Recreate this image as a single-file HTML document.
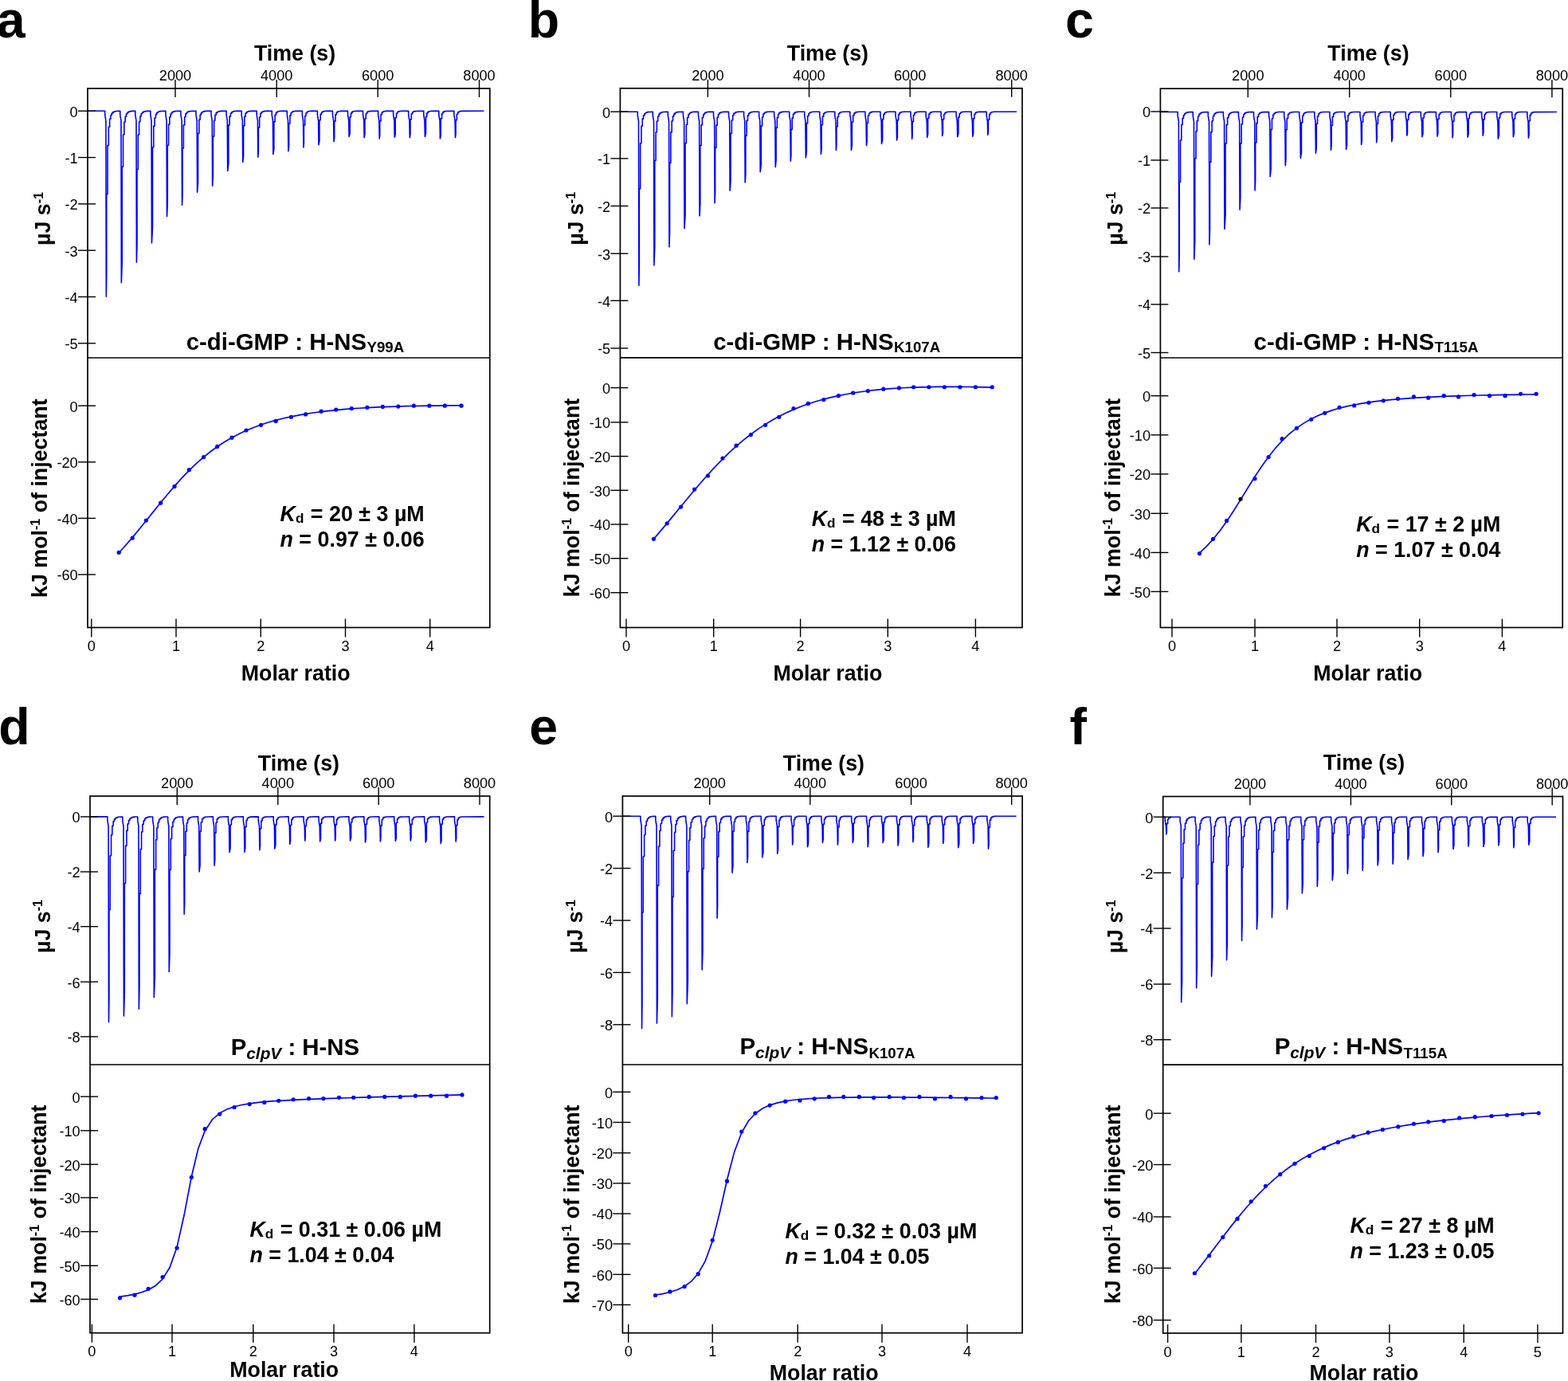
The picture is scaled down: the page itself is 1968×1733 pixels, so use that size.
<!DOCTYPE html>
<html><head><meta charset="utf-8"><style>
html,body{margin:0;padding:0;background:#fff;}
svg{display:block;}
text{font-family:"Liberation Sans",Arial,Helvetica,sans-serif;fill:#000;}
.let{font-size:64.5px;font-weight:bold;}
.lab{font-size:26.8px;font-weight:bold;}
.ttl{font-size:29.4px;font-weight:bold;}
.tl{font-size:18.2px;}
.sup{font-size:16px;}
.sub{font-size:18.7px;}
.subi{font-size:20.8px;font-style:italic;}
.kd{font-size:26.85px;font-weight:bold;}
.kds{font-size:17.2px;font-weight:bold;}
.fr{fill:none;stroke:#000;stroke-width:1.7;}
.tk{stroke:#000;stroke-width:1.4;}
.dat{fill:none;stroke:#0000ff;stroke-width:1.6;stroke-linejoin:round;}
.fit{fill:none;stroke:#0000ff;stroke-width:1.7;}
</style></head><body>
<svg width="1968" height="1733" viewBox="0 0 1968 1733">
<rect width="1968" height="1733" fill="#fff"/>
<text class="let" x="-4.3" y="47.3">a</text>
<path class="dat" d="M111,139.3 L131.7,139.3 L131.72,144.3 L132.9,151.3 L133.3,372.2 L133.75,344.31 L133.75,243.62 L135.05,243.62 L135.05,182.46 L136.35,182.46 L136.35,159.22 L137.65,159.22 L137.65,149.24 L138.95,149.24 L138.95,144.51 L140.25,144.51 L140.25,142.11 L141.55,142.11 L141.55,140.83 L142.85,140.83 L142.85,140.14 L144.15,140.14 L144.15,139.76 L145.45,139.76 L145.45,139.56 L150.75,139.32 L150.77,144.32 L151.95,151.32 L152.35,354.81 L153.23,328.98 L153.23,209.2 L154.53,209.2 L154.53,168.99 L155.83,168.98 L155.83,153.28 L157.13,153.28 L157.13,146.37 L158.43,146.37 L158.43,143.03 L159.73,143.03 L159.73,141.32 L161.03,141.32 L161.03,140.4 L162.33,140.4 L162.33,139.91 L163.63,139.91 L163.63,139.64 L164.93,139.64 L164.93,139.49 L166.23,139.4 L169.8,139.33 L169.82,144.33 L171,151.32 L171.4,329.22 L172.01,306.46 L172.02,212.46 L173.31,212.45 L173.32,169 L174.61,169 L174.62,152.8 L175.91,152.8 L175.92,145.97 L177.21,145.97 L177.22,142.78 L178.51,142.78 L178.52,141.17 L179.81,141.17 L179.82,140.32 L181.11,140.32 L181.12,139.86 L182.41,139.86 L182.42,139.61 L183.71,139.61 L183.72,139.47 L185.02,139.39 L188.85,139.33 L188.87,144.33 L190.05,151.32 L190.45,305.01 L191.5,285.14 L191.5,184.78 L192.8,184.78 L192.8,158.14 L194.1,158.14 L194.1,148 L195.4,148 L195.4,143.65 L196.7,143.65 L196.7,141.58 L198,141.58 L198,140.53 L199.3,140.53 L199.3,139.97 L200.6,139.97 L200.6,139.67 L201.9,139.67 L201.9,139.5 L207.9,139.32 L207.92,144.32 L209.1,151.31 L209.5,271.61 L210.28,255.75 L210.28,182.2 L211.58,182.2 L211.58,156.11 L212.88,156.11 L212.88,146.72 L214.18,146.72 L214.18,142.89 L215.48,142.89 L215.48,141.15 L216.78,141.15 L216.78,140.29 L218.08,140.29 L218.08,139.84 L219.38,139.84 L219.38,139.59 L220.68,139.59 L220.68,139.46 L226.95,139.32 L226.97,144.32 L228.15,151.31 L228.55,257.5 L229.06,243.35 L229.06,186.02 L230.36,186.01 L230.36,156.9 L231.66,156.9 L231.66,146.8 L232.96,146.79 L232.96,142.84 L234.26,142.84 L234.26,141.09 L235.56,141.09 L235.56,140.25 L236.86,140.25 L236.86,139.81 L238.16,139.81 L238.16,139.58 L239.46,139.58 L239.46,139.45 L246,139.31 L246.02,144.31 L247.2,151.31 L247.6,241.3 L248.54,229.08 L248.55,167.55 L249.84,167.55 L249.85,150.21 L251.14,150.21 L251.15,144.05 L252.44,144.05 L252.45,141.58 L253.74,141.58 L253.75,140.47 L255.04,140.47 L255.05,139.92 L256.34,139.92 L256.35,139.64 L257.64,139.64 L257.65,139.48 L258.95,139.4 L265.05,139.31 L265.07,144.31 L266.25,151.31 L266.65,233.21 L267.33,221.95 L267.33,171.19 L268.63,171.19 L268.63,151.21 L269.93,151.21 L269.93,144.33 L271.23,144.33 L271.23,141.66 L272.53,141.66 L272.53,140.49 L273.83,140.49 L273.83,139.93 L275.13,139.93 L275.13,139.64 L276.43,139.64 L276.43,139.49 L277.73,139.4 L284.1,139.31 L284.12,144.31 L285.3,151.31 L285.7,214.6 L286.81,205.57 L286.81,157.07 L288.11,157.07 L288.11,146.07 L289.41,146.07 L289.41,142.22 L290.71,142.22 L290.71,140.69 L292.01,140.69 L292.01,140.01 L293.31,140.01 L293.31,139.67 L294.61,139.67 L294.61,139.5 L297.21,139.36 L303.15,139.31 L303.17,144.31 L304.35,151.3 L304.75,203.5 L305.59,195.81 L305.59,157.85 L306.89,157.85 L306.89,146.11 L308.19,146.1 L308.19,142.12 L309.49,142.12 L309.49,140.61 L310.79,140.61 L310.79,139.95 L312.09,139.95 L312.09,139.64 L315.99,139.36 L322.2,139.31 L322.22,144.31 L323.4,151.3 L323.8,197.3 L324.38,190.35 L324.38,160.09 L325.68,160.09 L325.68,146.69 L326.98,146.69 L326.98,142.27 L328.28,142.27 L328.28,140.64 L329.58,140.64 L329.58,139.96 L330.88,139.96 L330.88,139.64 L334.78,139.35 L341.25,139.31 L341.27,144.31 L342.45,151.3 L342.85,193.6 L343.86,187.09 L343.86,152.86 L345.16,152.86 L345.16,144.29 L346.46,144.29 L346.46,141.38 L347.76,141.38 L347.76,140.26 L349.06,140.26 L349.06,139.78 L350.36,139.78 L350.36,139.55 L352.96,139.37 L360.3,139.3 L360.32,144.3 L361.5,151.3 L361.9,189.7 L362.64,183.66 L362.64,154.93 L363.94,154.93 L363.94,144.89 L365.24,144.89 L365.24,141.56 L366.54,141.56 L366.54,140.32 L367.84,140.32 L367.84,139.8 L369.14,139.8 L369.14,139.56 L371.74,139.38 L379.35,139.3 L379.37,144.3 L380.55,151.3 L380.95,185 L381.42,179.53 L381.43,157 L382.72,157 L382.73,145.44 L384.02,145.44 L384.03,141.71 L385.32,141.71 L385.33,140.36 L386.62,140.36 L386.63,139.81 L387.92,139.81 L387.93,139.56 L390.53,139.38 L398.4,139.3 L398.42,144.3 L399.6,151.3 L400,181.8 L400.91,176.71 L400.91,150.69 L402.21,150.69 L402.21,143.39 L403.51,143.39 L403.51,140.96 L404.81,140.96 L404.81,140.06 L406.11,140.06 L406.11,139.67 L407.41,139.67 L407.41,139.5 L410.01,139.36 L417.45,139.3 L417.47,144.3 L418.65,151.3 L419.05,177.6 L419.69,173.01 L419.69,152.1 L420.99,152.1 L420.99,143.77 L422.29,143.77 L422.29,141.06 L423.59,141.06 L423.59,140.08 L424.89,140.08 L424.89,139.68 L426.19,139.68 L426.19,139.5 L428.79,139.36 L436.5,139.3 L436.52,144.3 L437.7,151.3 L438.1,171.5 L439.17,167.64 L439.17,146.73 L440.47,146.73 L440.47,141.98 L441.77,141.98 L441.77,140.39 L443.07,140.39 L443.07,139.8 L444.37,139.8 L444.37,139.55 L448.27,139.34 L455.55,139.3 L455.57,144.3 L456.75,151.3 L457.15,172.6 L457.95,168.61 L457.96,148.93 L459.25,148.93 L459.26,142.69 L460.55,142.69 L460.56,140.65 L461.85,140.65 L461.86,139.9 L463.15,139.9 L463.16,139.59 L467.06,139.34 L474.6,139.3 L474.62,144.3 L475.8,151.3 L476.2,174 L476.74,169.84 L476.74,151.92 L478.04,151.92 L478.04,143.65 L479.34,143.65 L479.34,140.99 L480.64,140.99 L480.64,140.04 L481.94,140.04 L481.94,139.66 L483.24,139.66 L483.24,139.48 L484.54,139.4 L493.65,139.3 L493.67,144.3 L494.85,151.3 L495.25,172.2 L496.22,168.26 L496.22,147.58 L497.52,147.58 L497.52,142.25 L498.82,142.25 L498.82,140.49 L500.12,140.49 L500.12,139.84 L501.42,139.84 L501.42,139.57 L505.32,139.34 L512.7,139.3 L512.72,144.3 L513.9,151.3 L514.3,172.6 L515,168.61 L515,149.8 L516.3,149.8 L516.3,142.96 L517.6,142.96 L517.6,140.74 L518.9,140.74 L518.9,139.94 L520.2,139.94 L520.2,139.61 L521.5,139.61 L521.5,139.46 L531.75,139.3 L531.77,144.3 L532.95,151.3 L533.35,171.5 L534.48,167.64 L534.49,146.35 L535.78,146.35 L535.79,141.85 L537.08,141.85 L537.09,140.35 L538.38,140.35 L538.39,139.78 L539.68,139.78 L539.69,139.54 L543.59,139.34 L550.8,139.3 L550.82,144.3 L552,151.3 L552.4,174 L553.27,169.84 L553.27,148.83 L554.57,148.83 L554.57,142.68 L555.87,142.68 L555.87,140.65 L557.17,140.65 L557.17,139.91 L558.47,139.91 L558.47,139.6 L559.77,139.6 L559.77,139.45 L569.85,139.3 L569.87,144.3 L571.05,151.3 L571.45,172.6 L572.05,168.61 L572.05,150.76 L573.35,150.76 L573.35,143.26 L574.65,143.26 L574.65,140.84 L575.95,140.84 L575.95,139.98 L577.25,139.98 L577.25,139.63 L578.55,139.63 L578.55,139.47 L579.85,139.39 L607.3,139.3"/>
<rect x="110" y="111" width="504.8" height="676.5" class="fr"/>
<line x1="110" y1="449" x2="614.8" y2="449" class="fr"/>
<line x1="220" y1="100" x2="220" y2="122" class="tk"/>
<text class="tl" x="220" y="101" text-anchor="middle">2000</text>
<line x1="347.2" y1="100" x2="347.2" y2="122" class="tk"/>
<text class="tl" x="347.2" y="101" text-anchor="middle">4000</text>
<line x1="474.2" y1="100" x2="474.2" y2="122" class="tk"/>
<text class="tl" x="474.2" y="101" text-anchor="middle">6000</text>
<line x1="601.5" y1="100" x2="601.5" y2="122" class="tk"/>
<text class="tl" x="601.5" y="101" text-anchor="middle">8000</text>
<text class="lab" x="370.05" y="76.1" text-anchor="middle">Time (s)</text>
<line x1="98" y1="139.3" x2="120" y2="139.3" class="tk"/>
<text class="tl" x="97.7" y="146.7" text-anchor="end">0</text>
<line x1="98" y1="197.6" x2="120" y2="197.6" class="tk"/>
<text class="tl" x="97.7" y="205" text-anchor="end">-1</text>
<line x1="98" y1="255.9" x2="120" y2="255.9" class="tk"/>
<text class="tl" x="97.7" y="263.3" text-anchor="end">-2</text>
<line x1="98" y1="314.2" x2="120" y2="314.2" class="tk"/>
<text class="tl" x="97.7" y="321.6" text-anchor="end">-3</text>
<line x1="98" y1="372.5" x2="120" y2="372.5" class="tk"/>
<text class="tl" x="97.7" y="379.9" text-anchor="end">-4</text>
<line x1="98" y1="430.8" x2="120" y2="430.8" class="tk"/>
<text class="tl" x="97.7" y="438.2" text-anchor="end">-5</text>
<text class="lab" transform="translate(62.9,274.5) rotate(-90)" text-anchor="middle">µJ s<tspan class="sup" dy="-9.4">-1</tspan></text>
<text class="ttl" x="233.7" y="438.8">c-di-GMP : H-NS<tspan class="sub" dx="0.4" dy="2.9">Y99A</tspan></text>
<line x1="98" y1="509.2" x2="120" y2="509.2" class="tk"/>
<text class="tl" x="97.7" y="516.6" text-anchor="end">0</text>
<line x1="98" y1="579.8" x2="120" y2="579.8" class="tk"/>
<text class="tl" x="97.7" y="587.2" text-anchor="end">-20</text>
<line x1="98" y1="650.4" x2="120" y2="650.4" class="tk"/>
<text class="tl" x="97.7" y="657.8" text-anchor="end">-40</text>
<line x1="98" y1="721" x2="120" y2="721" class="tk"/>
<text class="tl" x="97.7" y="728.4" text-anchor="end">-60</text>
<line x1="114.8" y1="776.5" x2="114.8" y2="799.5" class="tk"/>
<text class="tl" x="114.8" y="817" text-anchor="middle">0</text>
<line x1="221" y1="776.5" x2="221" y2="799.5" class="tk"/>
<text class="tl" x="221" y="817" text-anchor="middle">1</text>
<line x1="327.3" y1="776.5" x2="327.3" y2="799.5" class="tk"/>
<text class="tl" x="327.3" y="817" text-anchor="middle">2</text>
<line x1="433.5" y1="776.5" x2="433.5" y2="799.5" class="tk"/>
<text class="tl" x="433.5" y="817" text-anchor="middle">3</text>
<line x1="539.7" y1="776.5" x2="539.7" y2="799.5" class="tk"/>
<text class="tl" x="539.7" y="817" text-anchor="middle">4</text>
<text class="lab" transform="translate(59.3,625.15) rotate(-90)" text-anchor="middle">kJ mol<tspan class="sup" dy="-9.4">-1</tspan><tspan dy="9.4"> of injectant</tspan></text>
<path class="fit" d="M149.21,693.75 L157.74,684.31 L166.28,674.39 L174.82,664.08 L183.35,653.53 L192.5,642.12 L201.65,630.79 L210.34,620.26 L219.02,610.1 L228.17,599.95 L237.32,590.45 L246.46,581.66 L255.61,573.61 L264.15,566.76 L272.68,560.54 L281.83,554.54 L290.98,549.18 L299.97,544.47 L308.96,540.28 L318.26,536.44 L327.56,533.04 L336.86,530.04 L346.16,527.39 L355.76,524.97 L365.37,522.84 L374.51,521.05 L383.66,519.46 L393.41,517.97 L403.17,516.66 L412.47,515.56 L421.77,514.59 L431.52,513.7 L441.28,512.92 L451.04,512.24 L460.79,511.64 L470.55,511.13 L480.3,510.69 L490.06,510.31 L499.82,509.98 L509.57,509.71 L519.33,509.48 L529.09,509.3 L538.84,509.16 L548.6,509.04 L558.35,508.96 L568.72,508.91 L579.09,508.89"/>
<circle cx="149.21" cy="693.35" r="2.6" fill="#0000ff"/>
<circle cx="166.28" cy="675.06" r="2.6" fill="#0000ff"/>
<circle cx="183.35" cy="653.11" r="2.6" fill="#0000ff"/>
<circle cx="201.65" cy="631.16" r="2.6" fill="#0000ff"/>
<circle cx="219.02" cy="610.43" r="2.6" fill="#0000ff"/>
<circle cx="237.32" cy="589.7" r="2.6" fill="#0000ff"/>
<circle cx="255.61" cy="573.54" r="2.6" fill="#0000ff"/>
<circle cx="272.68" cy="560.43" r="2.6" fill="#0000ff"/>
<circle cx="290.98" cy="549.15" r="2.6" fill="#0000ff"/>
<circle cx="308.96" cy="540" r="2.6" fill="#0000ff"/>
<circle cx="327.56" cy="533.29" r="2.6" fill="#0000ff"/>
<circle cx="346.16" cy="528.41" r="2.6" fill="#0000ff"/>
<circle cx="365.37" cy="523.23" r="2.6" fill="#0000ff"/>
<circle cx="383.66" cy="519.88" r="2.6" fill="#0000ff"/>
<circle cx="403.17" cy="516.22" r="2.6" fill="#0000ff"/>
<circle cx="421.77" cy="514.09" r="2.6" fill="#0000ff"/>
<circle cx="441.28" cy="512.56" r="2.6" fill="#0000ff"/>
<circle cx="460.79" cy="511.34" r="2.6" fill="#0000ff"/>
<circle cx="480.3" cy="510.43" r="2.6" fill="#0000ff"/>
<circle cx="499.82" cy="510.12" r="2.6" fill="#0000ff"/>
<circle cx="519.33" cy="509.21" r="2.6" fill="#0000ff"/>
<circle cx="538.84" cy="509.21" r="2.6" fill="#0000ff"/>
<circle cx="558.35" cy="509.21" r="2.6" fill="#0000ff"/>
<circle cx="579.09" cy="509.21" r="2.6" fill="#0000ff"/>
<text class="kd" x="351.5" y="654.2"><tspan font-style="italic">K</tspan><tspan class="kds" dy="1.8">d</tspan><tspan dx="1" dy="-1.8"> = 20 ± 3 µM</tspan></text>
<text class="kd" x="351.5" y="686"><tspan font-style="italic">n</tspan> = 0.97 ± 0.06</text>
<text class="lab" x="371.2" y="854" text-anchor="middle">Molar ratio</text>
<text class="let" x="662.8" y="47.3">b</text>
<path class="dat" d="M778.5,140.2 L800.3,140.2 L800.32,145.2 L801.5,152.2 L801.9,358.15 L802.35,332.05 L802.35,236.91 L803.65,236.91 L803.65,179.74 L804.95,179.74 L804.95,158.28 L806.25,158.28 L806.25,149.17 L807.55,149.17 L807.55,144.89 L808.85,144.89 L808.85,142.72 L810.15,142.72 L810.15,141.57 L811.45,141.57 L811.45,140.95 L812.75,140.95 L812.75,140.62 L814.05,140.62 L814.05,140.43 L819.34,140.22 L819.36,145.22 L820.54,152.22 L820.94,333.01 L821.82,309.9 L821.82,201.45 L823.12,201.45 L823.12,165.76 L824.42,165.75 L824.42,152.07 L825.72,152.07 L825.72,146.15 L827.02,146.15 L827.02,143.33 L828.32,143.33 L828.32,141.89 L829.62,141.89 L829.62,141.12 L830.92,141.12 L830.92,140.71 L832.22,140.71 L832.22,140.48 L838.38,140.23 L838.4,145.23 L839.58,152.21 L839.98,309.87 L840.59,289.54 L840.6,204.56 L841.89,204.56 L841.9,165.89 L843.19,165.88 L843.2,151.71 L844.49,151.71 L844.5,145.84 L845.79,145.83 L845.8,143.12 L847.09,143.12 L847.1,141.76 L848.39,141.76 L848.4,141.05 L849.69,141.05 L849.7,140.67 L850.99,140.67 L851,140.46 L857.42,140.22 L857.44,145.22 L858.62,152.21 L859.02,286.73 L860.07,269.16 L860.07,179.6 L861.37,179.59 L861.37,156.25 L862.67,156.24 L862.67,147.51 L863.97,147.51 L863.97,143.82 L865.27,143.82 L865.27,142.09 L866.57,142.09 L866.57,141.21 L867.87,141.21 L867.87,140.75 L869.17,140.75 L869.17,140.5 L870.47,140.5 L870.47,140.37 L876.46,140.22 L876.48,145.22 L877.66,152.21 L878.06,270.97 L878.84,255.29 L878.84,182.54 L880.14,182.54 L880.14,156.77 L881.44,156.77 L881.44,147.5 L882.74,147.5 L882.74,143.73 L884.04,143.73 L884.04,142.02 L885.34,142.02 L885.34,141.17 L886.64,141.17 L886.64,140.73 L887.94,140.73 L887.94,140.49 L889.24,140.49 L889.24,140.36 L895.5,140.21 L895.52,145.21 L896.7,152.21 L897.1,254.87 L897.61,241.13 L897.61,185.4 L898.91,185.4 L898.91,157.17 L900.21,157.17 L900.21,147.4 L901.51,147.4 L901.51,143.59 L902.81,143.59 L902.81,141.91 L904.11,141.91 L904.11,141.11 L905.41,141.1 L905.41,140.69 L906.71,140.69 L906.71,140.47 L908.01,140.47 L908.01,140.35 L914.54,140.21 L914.56,145.21 L915.74,152.21 L916.14,239.11 L917.08,227.25 L917.09,167.5 L918.38,167.5 L918.39,150.71 L919.68,150.71 L919.69,144.77 L920.98,144.77 L920.99,142.39 L922.28,142.39 L922.29,141.32 L923.58,141.32 L923.59,140.79 L924.88,140.79 L924.89,140.52 L926.18,140.52 L926.19,140.38 L927.49,140.3 L933.58,140.21 L933.6,145.21 L934.78,152.21 L935.18,229.05 L935.86,218.4 L935.86,170.24 L937.16,170.24 L937.16,151.36 L938.46,151.36 L938.46,144.89 L939.76,144.88 L939.76,142.39 L941.06,142.39 L941.06,141.3 L942.36,141.3 L942.36,140.78 L943.66,140.78 L943.66,140.51 L944.96,140.51 L944.96,140.37 L946.26,140.29 L952.62,140.21 L952.64,145.21 L953.82,152.2 L954.22,215.63 L955.33,206.59 L955.33,158 L956.63,158 L956.63,146.99 L957.93,146.99 L957.93,143.12 L959.23,143.12 L959.23,141.59 L960.53,141.59 L960.53,140.91 L961.83,140.91 L961.83,140.57 L963.13,140.57 L963.13,140.4 L965.73,140.26 L971.66,140.21 L971.68,145.21 L972.86,152.2 L973.26,209.59 L974.1,201.28 L974.1,160.35 L975.4,160.35 L975.4,147.64 L976.7,147.64 L976.7,143.31 L978,143.31 L978,141.64 L979.3,141.64 L979.3,140.92 L980.6,140.92 L980.6,140.58 L981.9,140.58 L981.9,140.41 L984.5,140.26 L990.7,140.21 L990.72,145.21 L991.9,152.2 L992.3,202.22 L992.88,194.79 L992.88,162.5 L994.18,162.5 L994.18,148.16 L995.48,148.16 L995.48,143.42 L996.78,143.41 L996.78,141.65 L998.08,141.65 L998.08,140.92 L999.38,140.92 L999.38,140.57 L1000.68,140.57 L1000.68,140.4 L1003.28,140.26 L1009.74,140.21 L1009.76,145.21 L1010.94,152.2 L1011.34,197.86 L1012.35,190.94 L1012.35,154.66 L1013.65,154.66 L1013.65,145.54 L1014.95,145.54 L1014.95,142.43 L1016.25,142.43 L1016.25,141.24 L1017.55,141.24 L1017.55,140.72 L1018.85,140.72 L1018.85,140.47 L1021.45,140.28 L1028.78,140.2 L1028.8,145.2 L1029.98,152.2 L1030.38,193.5 L1031.12,187.11 L1031.12,156.77 L1032.42,156.77 L1032.42,146.15 L1033.72,146.15 L1033.72,142.61 L1035.02,142.61 L1035.02,141.3 L1036.32,141.3 L1036.32,140.74 L1037.62,140.74 L1037.62,140.48 L1040.22,140.28 L1047.82,140.2 L1047.84,145.2 L1049.02,152.2 L1049.42,188.47 L1049.89,182.69 L1049.9,158.92 L1051.19,158.92 L1051.2,146.72 L1052.49,146.72 L1052.5,142.76 L1053.79,142.76 L1053.8,141.33 L1055.09,141.33 L1055.1,140.75 L1056.39,140.75 L1056.4,140.48 L1060.3,140.25 L1066.86,140.2 L1066.88,145.2 L1068.06,152.2 L1068.46,188.47 L1069.37,182.68 L1069.37,153.22 L1070.67,153.22 L1070.67,144.91 L1071.97,144.91 L1071.97,142.13 L1073.27,142.13 L1073.27,141.08 L1074.57,141.08 L1074.57,140.64 L1075.87,140.64 L1075.87,140.43 L1078.47,140.27 L1085.9,140.2 L1085.92,145.2 L1087.1,152.2 L1087.5,182.77 L1088.14,177.66 L1088.14,154.48 L1089.44,154.48 L1089.44,145.21 L1090.74,145.21 L1090.74,142.19 L1092.04,142.19 L1092.04,141.08 L1093.34,141.08 L1093.34,140.63 L1094.64,140.63 L1094.64,140.42 L1097.24,140.26 L1104.94,140.2 L1104.96,145.2 L1106.14,152.2 L1106.54,180.42 L1107.61,175.6 L1107.61,149.58 L1108.91,149.58 L1108.91,143.61 L1110.21,143.61 L1110.21,141.6 L1111.51,141.6 L1111.51,140.85 L1112.81,140.85 L1112.81,140.52 L1116.71,140.25 L1123.98,140.2 L1124,145.2 L1125.18,152.2 L1125.58,176.06 L1126.38,171.76 L1126.39,150.6 L1127.68,150.6 L1127.69,143.87 L1128.98,143.87 L1128.99,141.66 L1130.28,141.66 L1130.29,140.86 L1131.58,140.86 L1131.59,140.52 L1135.49,140.25 L1143.02,140.2 L1143.04,145.2 L1144.22,152.2 L1144.62,174.38 L1145.16,170.29 L1145.16,152.63 L1146.46,152.63 L1146.46,144.48 L1147.76,144.48 L1147.76,141.86 L1149.06,141.86 L1149.06,140.93 L1150.36,140.93 L1150.36,140.55 L1154.26,140.25 L1162.06,140.2 L1162.08,145.2 L1163.26,152.2 L1163.66,172.37 L1164.63,168.51 L1164.63,148.29 L1165.93,148.28 L1165.93,143.08 L1167.23,143.08 L1167.23,141.36 L1168.53,141.36 L1168.53,140.73 L1169.83,140.73 L1169.83,140.46 L1172.43,140.27 L1181.1,140.2 L1181.12,145.2 L1182.3,152.2 L1182.7,170.36 L1183.4,166.74 L1183.4,149.68 L1184.7,149.68 L1184.7,143.49 L1186,143.49 L1186,141.49 L1187.3,141.49 L1187.3,140.77 L1188.6,140.77 L1188.6,140.48 L1192.5,140.24 L1200.14,140.2 L1200.16,145.2 L1201.34,152.2 L1201.74,171.7 L1202.87,167.92 L1202.88,147.09 L1204.17,147.09 L1204.18,142.69 L1205.47,142.69 L1205.48,141.22 L1206.77,141.22 L1206.78,140.67 L1208.07,140.67 L1208.08,140.43 L1210.68,140.27 L1219.18,140.2 L1219.2,145.2 L1220.38,152.2 L1220.78,171.36 L1221.65,167.63 L1221.65,148.72 L1222.95,148.72 L1222.95,143.21 L1224.25,143.21 L1224.25,141.4 L1225.55,141.4 L1225.55,140.74 L1226.85,140.74 L1226.85,140.46 L1228.15,140.46 L1228.15,140.34 L1238.22,140.2 L1238.24,145.2 L1239.42,152.2 L1239.82,169.35 L1240.42,165.86 L1240.42,150.2 L1241.72,150.2 L1241.72,143.64 L1243.02,143.64 L1243.02,141.53 L1244.32,141.53 L1244.32,140.78 L1245.62,140.78 L1245.62,140.48 L1246.92,140.48 L1246.92,140.34 L1248.22,140.28 L1276,140.2"/>
<rect x="778.4" y="110.8" width="504.6" height="676.7" class="fr"/>
<line x1="778.4" y1="448.8" x2="1283" y2="448.8" class="fr"/>
<line x1="888.4" y1="99.8" x2="888.4" y2="121.8" class="tk"/>
<text class="tl" x="888.4" y="100.8" text-anchor="middle">2000</text>
<line x1="1015.5" y1="99.8" x2="1015.5" y2="121.8" class="tk"/>
<text class="tl" x="1015.5" y="100.8" text-anchor="middle">4000</text>
<line x1="1142.2" y1="99.8" x2="1142.2" y2="121.8" class="tk"/>
<text class="tl" x="1142.2" y="100.8" text-anchor="middle">6000</text>
<line x1="1269.7" y1="99.8" x2="1269.7" y2="121.8" class="tk"/>
<text class="tl" x="1269.7" y="100.8" text-anchor="middle">8000</text>
<text class="lab" x="1038.9" y="76.1" text-anchor="middle">Time (s)</text>
<line x1="766.4" y1="140.2" x2="788.4" y2="140.2" class="tk"/>
<text class="tl" x="766.1" y="147.6" text-anchor="end">0</text>
<line x1="766.4" y1="198.9" x2="788.4" y2="198.9" class="tk"/>
<text class="tl" x="766.1" y="206.3" text-anchor="end">-1</text>
<line x1="766.4" y1="258.5" x2="788.4" y2="258.5" class="tk"/>
<text class="tl" x="766.1" y="265.9" text-anchor="end">-2</text>
<line x1="766.4" y1="318.2" x2="788.4" y2="318.2" class="tk"/>
<text class="tl" x="766.1" y="325.6" text-anchor="end">-3</text>
<line x1="766.4" y1="377.3" x2="788.4" y2="377.3" class="tk"/>
<text class="tl" x="766.1" y="384.7" text-anchor="end">-4</text>
<line x1="766.4" y1="437" x2="788.4" y2="437" class="tk"/>
<text class="tl" x="766.1" y="444.4" text-anchor="end">-5</text>
<text class="lab" transform="translate(731.7,274.4) rotate(-90)" text-anchor="middle">µJ s<tspan class="sup" dy="-9.4">-1</tspan></text>
<text class="ttl" x="895.2" y="439">c-di-GMP : H-NS<tspan class="sub" dx="0.4" dy="2.9">K107A</tspan></text>
<line x1="766.4" y1="486.6" x2="788.4" y2="486.6" class="tk"/>
<text class="tl" x="766.1" y="494" text-anchor="end">0</text>
<line x1="766.4" y1="529.9" x2="788.4" y2="529.9" class="tk"/>
<text class="tl" x="766.1" y="537.3" text-anchor="end">-10</text>
<line x1="766.4" y1="572.6" x2="788.4" y2="572.6" class="tk"/>
<text class="tl" x="766.1" y="580" text-anchor="end">-20</text>
<line x1="766.4" y1="615.3" x2="788.4" y2="615.3" class="tk"/>
<text class="tl" x="766.1" y="622.7" text-anchor="end">-30</text>
<line x1="766.4" y1="658" x2="788.4" y2="658" class="tk"/>
<text class="tl" x="766.1" y="665.4" text-anchor="end">-40</text>
<line x1="766.4" y1="700.7" x2="788.4" y2="700.7" class="tk"/>
<text class="tl" x="766.1" y="708.1" text-anchor="end">-50</text>
<line x1="766.4" y1="743.7" x2="788.4" y2="743.7" class="tk"/>
<text class="tl" x="766.1" y="751.1" text-anchor="end">-60</text>
<line x1="786" y1="776.5" x2="786" y2="799.5" class="tk"/>
<text class="tl" x="786" y="817" text-anchor="middle">0</text>
<line x1="895.7" y1="776.5" x2="895.7" y2="799.5" class="tk"/>
<text class="tl" x="895.7" y="817" text-anchor="middle">1</text>
<line x1="1004.6" y1="776.5" x2="1004.6" y2="799.5" class="tk"/>
<text class="tl" x="1004.6" y="817" text-anchor="middle">2</text>
<line x1="1114.3" y1="776.5" x2="1114.3" y2="799.5" class="tk"/>
<text class="tl" x="1114.3" y="817" text-anchor="middle">3</text>
<line x1="1224.4" y1="776.5" x2="1224.4" y2="799.5" class="tk"/>
<text class="tl" x="1224.4" y="817" text-anchor="middle">4</text>
<text class="lab" transform="translate(726.8,624.5) rotate(-90)" text-anchor="middle">kJ mol<tspan class="sup" dy="-9.4">-1</tspan><tspan dy="9.4"> of injectant</tspan></text>
<path class="fit" d="M820.43,676.42 L828.81,666.66 L837.2,656.66 L845.88,646.15 L854.57,635.58 L863.11,625.23 L871.65,615.03 L880.03,605.23 L888.41,595.73 L897.71,585.62 L907.01,576.03 L915.55,567.73 L924.09,559.93 L933.23,552.16 L942.38,544.98 L951.52,538.39 L960.67,532.36 L969.21,527.23 L977.74,522.55 L986.89,518 L996.04,513.89 L1005.18,510.2 L1014.33,506.9 L1024.09,503.75 L1033.84,500.97 L1043.14,498.63 L1052.44,496.55 L1061.59,494.75 L1070.73,493.16 L1080.03,491.75 L1089.33,490.53 L1099.09,489.42 L1108.84,488.47 L1118.6,487.68 L1128.35,487.02 L1137.5,486.52 L1146.65,486.12 L1156.25,485.79 L1165.85,485.55 L1175.61,485.39 L1185.37,485.32 L1195.12,485.31 L1204.88,485.37 L1214.63,485.48 L1224.39,485.65 L1234.76,485.89 L1245.12,486.18"/>
<circle cx="820.43" cy="676.28" r="2.6" fill="#0000ff"/>
<circle cx="837.2" cy="656.77" r="2.6" fill="#0000ff"/>
<circle cx="854.57" cy="636.04" r="2.6" fill="#0000ff"/>
<circle cx="871.65" cy="614.09" r="2.6" fill="#0000ff"/>
<circle cx="888.41" cy="597.01" r="2.6" fill="#0000ff"/>
<circle cx="907.01" cy="575.06" r="2.6" fill="#0000ff"/>
<circle cx="924.09" cy="559.21" r="2.6" fill="#0000ff"/>
<circle cx="942.38" cy="545.49" r="2.6" fill="#0000ff"/>
<circle cx="960.67" cy="533.29" r="2.6" fill="#0000ff"/>
<circle cx="977.74" cy="523.23" r="2.6" fill="#0000ff"/>
<circle cx="996.04" cy="512.56" r="2.6" fill="#0000ff"/>
<circle cx="1014.33" cy="506.46" r="2.6" fill="#0000ff"/>
<circle cx="1033.84" cy="501.59" r="2.6" fill="#0000ff"/>
<circle cx="1052.44" cy="496.71" r="2.6" fill="#0000ff"/>
<circle cx="1070.73" cy="493.05" r="2.6" fill="#0000ff"/>
<circle cx="1089.33" cy="490.61" r="2.6" fill="#0000ff"/>
<circle cx="1108.84" cy="488.17" r="2.6" fill="#0000ff"/>
<circle cx="1128.35" cy="486.95" r="2.6" fill="#0000ff"/>
<circle cx="1146.65" cy="485.73" r="2.6" fill="#0000ff"/>
<circle cx="1165.85" cy="485.73" r="2.6" fill="#0000ff"/>
<circle cx="1185.37" cy="485.73" r="2.6" fill="#0000ff"/>
<circle cx="1204.88" cy="485.73" r="2.6" fill="#0000ff"/>
<circle cx="1224.39" cy="485.73" r="2.6" fill="#0000ff"/>
<circle cx="1245.12" cy="485.73" r="2.6" fill="#0000ff"/>
<text class="kd" x="1018.7" y="660"><tspan font-style="italic">K</tspan><tspan class="kds" dy="1.8">d</tspan><tspan dx="1" dy="-1.8"> = 48 ± 3 µM</tspan></text>
<text class="kd" x="1018.7" y="691.5"><tspan font-style="italic">n</tspan> = 1.12 ± 0.06</text>
<text class="lab" x="1038.9" y="853.5" text-anchor="middle">Molar ratio</text>
<text class="let" x="1337" y="47.2">c</text>
<path class="dat" d="M1456.5,140.5 L1478.18,140.5 L1478.2,145.5 L1479.38,152.5 L1479.78,341.05 L1480.23,317.04 L1480.23,228.51 L1481.53,228.51 L1481.53,175.99 L1482.83,175.99 L1482.83,156.54 L1484.13,156.54 L1484.13,148.4 L1485.43,148.4 L1485.43,144.61 L1486.73,144.61 L1486.73,142.7 L1488.03,142.7 L1488.03,141.7 L1489.33,141.7 L1489.33,141.16 L1490.63,141.16 L1490.63,140.86 L1491.93,140.86 L1491.93,140.7 L1493.23,140.61 L1497.25,140.52 L1497.27,145.52 L1498.45,152.51 L1498.85,325.17 L1499.73,303.04 L1499.73,198.72 L1501.03,198.72 L1501.03,164.63 L1502.33,164.63 L1502.33,151.65 L1503.63,151.65 L1503.63,146.07 L1504.93,146.07 L1504.93,143.42 L1506.23,143.42 L1506.23,142.07 L1507.53,142.07 L1507.53,141.36 L1508.83,141.36 L1508.83,140.97 L1510.13,140.97 L1510.13,140.76 L1516.32,140.52 L1516.34,145.52 L1517.52,152.51 L1517.92,307.02 L1518.53,287.07 L1518.53,203.52 L1519.83,203.51 L1519.83,165.58 L1521.13,165.58 L1521.13,151.71 L1522.43,151.71 L1522.43,145.98 L1523.73,145.98 L1523.73,143.34 L1525.03,143.34 L1525.03,142.02 L1526.33,142.02 L1526.33,141.33 L1527.63,141.33 L1527.63,140.95 L1528.93,140.95 L1528.93,140.75 L1535.39,140.52 L1535.41,145.52 L1536.59,152.51 L1536.99,287.56 L1538.04,269.93 L1538.04,180.06 L1539.34,180.06 L1539.34,156.62 L1540.64,156.62 L1540.64,147.85 L1541.94,147.85 L1541.94,144.14 L1543.24,144.14 L1543.24,142.4 L1544.54,142.4 L1544.54,141.52 L1545.84,141.52 L1545.84,141.06 L1547.14,141.06 L1547.14,140.81 L1548.44,140.81 L1548.44,140.67 L1554.46,140.52 L1554.48,145.52 L1555.66,152.51 L1556.06,263.25 L1556.84,248.54 L1556.84,179.96 L1558.14,179.95 L1558.14,155.82 L1559.44,155.82 L1559.44,147.2 L1560.74,147.2 L1560.74,143.73 L1562.04,143.73 L1562.04,142.16 L1563.34,142.16 L1563.34,141.38 L1564.64,141.38 L1564.64,140.98 L1565.94,140.98 L1565.94,140.76 L1567.24,140.76 L1567.24,140.64 L1573.53,140.52 L1573.55,145.51 L1574.73,152.51 L1575.13,238.93 L1575.64,227.14 L1575.64,178.85 L1576.94,178.85 L1576.94,154.66 L1578.24,154.66 L1578.24,146.42 L1579.54,146.42 L1579.54,143.25 L1580.84,143.25 L1580.84,141.88 L1582.14,141.88 L1582.14,141.23 L1583.44,141.23 L1583.44,140.89 L1584.74,140.89 L1584.74,140.71 L1586.04,140.62 L1592.6,140.51 L1592.62,145.51 L1593.8,152.51 L1594.2,221.75 L1595.15,212.01 L1595.15,162.51 L1596.45,162.51 L1596.45,148.81 L1597.75,148.81 L1597.75,144.05 L1599.05,144.05 L1599.05,142.18 L1600.35,142.18 L1600.35,141.35 L1601.65,141.35 L1601.65,140.95 L1602.95,140.95 L1602.95,140.74 L1605.55,140.57 L1611.67,140.51 L1611.69,145.51 L1612.87,152.51 L1613.27,207.81 L1613.95,199.74 L1613.95,162.84 L1615.25,162.84 L1615.25,148.6 L1616.55,148.6 L1616.55,143.82 L1617.85,143.82 L1617.85,142.02 L1619.15,142.02 L1619.15,141.26 L1620.45,141.26 L1620.45,140.9 L1621.75,140.9 L1621.75,140.71 L1624.35,140.56 L1630.74,140.51 L1630.76,145.51 L1631.94,152.51 L1632.34,198.41 L1633.45,191.46 L1633.46,153.87 L1634.75,153.87 L1634.76,145.49 L1636.05,145.49 L1636.06,142.61 L1637.35,142.61 L1637.36,141.49 L1638.65,141.49 L1638.66,141 L1639.95,141 L1639.96,140.76 L1643.86,140.54 L1649.81,140.51 L1649.83,145.5 L1651.01,152.5 L1651.41,192.25 L1652.26,186.04 L1652.26,155.26 L1653.56,155.26 L1653.56,145.84 L1654.86,145.84 L1654.86,142.68 L1656.16,142.68 L1656.16,141.5 L1657.46,141.5 L1657.46,140.99 L1658.76,140.99 L1658.76,140.76 L1662.66,140.54 L1668.89,140.51 L1668.91,145.5 L1670.09,152.5 L1670.49,188.36 L1671.06,182.62 L1671.06,157.52 L1672.36,157.51 L1672.36,146.48 L1673.66,146.48 L1673.66,142.87 L1674.96,142.87 L1674.96,141.56 L1676.26,141.56 L1676.26,141.02 L1677.56,141.02 L1677.56,140.77 L1681.46,140.54 L1687.96,140.51 L1687.98,145.5 L1689.16,152.5 L1689.56,187.38 L1690.56,181.76 L1690.57,152.11 L1691.86,152.11 L1691.87,144.73 L1693.16,144.73 L1693.17,142.25 L1694.46,142.25 L1694.47,141.3 L1695.76,141.3 L1695.77,140.9 L1697.06,140.9 L1697.07,140.71 L1699.67,140.56 L1707.03,140.51 L1707.05,145.5 L1708.23,152.5 L1708.63,181.55 L1709.37,176.63 L1709.37,153.12 L1710.67,153.12 L1710.67,144.96 L1711.97,144.96 L1711.97,142.28 L1713.27,142.28 L1713.27,141.3 L1714.57,141.3 L1714.57,140.89 L1715.87,140.89 L1715.87,140.7 L1718.47,140.56 L1726.1,140.51 L1726.12,145.5 L1727.3,152.5 L1727.7,178.63 L1728.17,174.06 L1728.17,155.18 L1729.47,155.18 L1729.47,145.55 L1730.77,145.55 L1730.77,142.46 L1732.07,142.46 L1732.07,141.36 L1733.37,141.36 L1733.37,140.91 L1734.67,140.91 L1734.67,140.71 L1737.27,140.56 L1745.17,140.51 L1745.19,145.5 L1746.37,152.5 L1746.77,177.66 L1747.67,173.2 L1747.68,150.4 L1748.97,150.4 L1748.98,144.03 L1750.27,144.03 L1750.28,141.93 L1751.57,141.93 L1751.58,141.15 L1752.87,141.15 L1752.88,140.82 L1756.78,140.55 L1764.24,140.51 L1764.26,145.5 L1765.44,152.5 L1765.84,170.2 L1766.48,166.64 L1766.48,150.35 L1767.78,150.35 L1767.78,143.9 L1769.08,143.9 L1769.08,141.83 L1770.38,141.83 L1770.38,141.08 L1771.68,141.08 L1771.68,140.78 L1775.58,140.54 L1783.3,140.5 L1783.33,145.5 L1784.51,152.5 L1784.91,171.82 L1785.98,168.07 L1785.98,147.72 L1787.28,147.72 L1787.28,143.1 L1788.58,143.1 L1788.58,141.56 L1789.88,141.56 L1789.88,140.98 L1791.18,140.98 L1791.18,140.74 L1792.48,140.74 L1792.48,140.62 L1802.38,140.5 L1802.4,145.49 L1803.58,152.5 L1803.98,171.17 L1804.79,167.5 L1804.79,149.35 L1806.09,149.35 L1806.09,143.6 L1807.39,143.6 L1807.39,141.73 L1808.69,141.73 L1808.69,141.05 L1809.99,141.05 L1809.99,140.77 L1813.89,140.54 L1821.45,140.5 L1821.47,145.49 L1822.65,152.5 L1823.05,172.79 L1823.59,168.93 L1823.59,152.22 L1824.89,152.22 L1824.89,144.53 L1826.19,144.53 L1826.19,142.06 L1827.49,142.06 L1827.49,141.18 L1828.79,141.18 L1828.79,140.83 L1830.09,140.83 L1830.09,140.67 L1831.39,140.59 L1840.52,140.5 L1840.54,145.49 L1841.72,152.5 L1842.12,172.14 L1843.09,168.35 L1843.09,148.45 L1844.39,148.45 L1844.39,143.33 L1845.69,143.33 L1845.69,141.64 L1846.99,141.64 L1846.99,141.02 L1848.29,141.02 L1848.29,140.75 L1849.59,140.75 L1849.59,140.63 L1859.59,140.5 L1859.61,145.49 L1860.79,152.5 L1861.19,170.2 L1861.9,166.64 L1861.9,149.84 L1863.2,149.84 L1863.2,143.74 L1864.5,143.74 L1864.5,141.77 L1865.8,141.77 L1865.8,141.06 L1867.1,141.06 L1867.1,140.77 L1871,140.54 L1878.67,140.5 L1878.69,145.49 L1879.87,152.5 L1880.27,174.09 L1881.4,170.06 L1881.4,147.87 L1882.7,147.87 L1882.7,143.17 L1884,143.17 L1884,141.6 L1885.3,141.6 L1885.3,141 L1886.6,141 L1886.6,140.75 L1889.2,140.57 L1897.74,140.5 L1897.76,145.49 L1898.94,152.5 L1899.34,171.82 L1900.2,168.07 L1900.2,149.07 L1901.5,149.07 L1901.5,143.53 L1902.8,143.53 L1902.8,141.71 L1904.1,141.71 L1904.1,141.04 L1905.4,141.04 L1905.4,140.76 L1909.3,140.54 L1916.81,140.5 L1916.83,145.5 L1918.01,152.5 L1918.41,173.12 L1919.01,169.21 L1919.01,151.72 L1920.31,151.72 L1920.31,144.38 L1921.61,144.38 L1921.61,142.01 L1922.91,142.01 L1922.91,141.16 L1924.21,141.16 L1924.21,140.82 L1925.51,140.82 L1925.51,140.66 L1926.81,140.59 L1954,140.5"/>
<rect x="1456.4" y="111.2" width="504.8" height="676.3" class="fr"/>
<line x1="1456.4" y1="449" x2="1961.2" y2="449" class="fr"/>
<line x1="1566.3" y1="100.2" x2="1566.3" y2="122.2" class="tk"/>
<text class="tl" x="1566.3" y="101.2" text-anchor="middle">2000</text>
<line x1="1693.7" y1="100.2" x2="1693.7" y2="122.2" class="tk"/>
<text class="tl" x="1693.7" y="101.2" text-anchor="middle">4000</text>
<line x1="1820.8" y1="100.2" x2="1820.8" y2="122.2" class="tk"/>
<text class="tl" x="1820.8" y="101.2" text-anchor="middle">6000</text>
<line x1="1947.9" y1="100.2" x2="1947.9" y2="122.2" class="tk"/>
<text class="tl" x="1947.9" y="101.2" text-anchor="middle">8000</text>
<text class="lab" x="1717.5" y="76.1" text-anchor="middle">Time (s)</text>
<line x1="1444.4" y1="140" x2="1466.4" y2="140" class="tk"/>
<text class="tl" x="1444.1" y="147.4" text-anchor="end">0</text>
<line x1="1444.4" y1="201" x2="1466.4" y2="201" class="tk"/>
<text class="tl" x="1444.1" y="208.4" text-anchor="end">-1</text>
<line x1="1444.4" y1="261" x2="1466.4" y2="261" class="tk"/>
<text class="tl" x="1444.1" y="268.4" text-anchor="end">-2</text>
<line x1="1444.4" y1="322" x2="1466.4" y2="322" class="tk"/>
<text class="tl" x="1444.1" y="329.4" text-anchor="end">-3</text>
<line x1="1444.4" y1="382" x2="1466.4" y2="382" class="tk"/>
<text class="tl" x="1444.1" y="389.4" text-anchor="end">-4</text>
<line x1="1444.4" y1="442.5" x2="1466.4" y2="442.5" class="tk"/>
<text class="tl" x="1444.1" y="449.9" text-anchor="end">-5</text>
<text class="lab" transform="translate(1409.3,274.4) rotate(-90)" text-anchor="middle">µJ s<tspan class="sup" dy="-9.4">-1</tspan></text>
<text class="ttl" x="1573.6" y="438.6">c-di-GMP : H-NS<tspan class="sub" dx="0.4" dy="2.9">T115A</tspan></text>
<line x1="1444.4" y1="496.7" x2="1466.4" y2="496.7" class="tk"/>
<text class="tl" x="1444.1" y="504.1" text-anchor="end">0</text>
<line x1="1444.4" y1="545.8" x2="1466.4" y2="545.8" class="tk"/>
<text class="tl" x="1444.1" y="553.2" text-anchor="end">-10</text>
<line x1="1444.4" y1="594.9" x2="1466.4" y2="594.9" class="tk"/>
<text class="tl" x="1444.1" y="602.3" text-anchor="end">-20</text>
<line x1="1444.4" y1="644.3" x2="1466.4" y2="644.3" class="tk"/>
<text class="tl" x="1444.1" y="651.7" text-anchor="end">-30</text>
<line x1="1444.4" y1="693.4" x2="1466.4" y2="693.4" class="tk"/>
<text class="tl" x="1444.1" y="700.8" text-anchor="end">-40</text>
<line x1="1444.4" y1="742.4" x2="1466.4" y2="742.4" class="tk"/>
<text class="tl" x="1444.1" y="749.8" text-anchor="end">-50</text>
<line x1="1471" y1="776.5" x2="1471" y2="799.5" class="tk"/>
<text class="tl" x="1471" y="817" text-anchor="middle">0</text>
<line x1="1575" y1="776.5" x2="1575" y2="799.5" class="tk"/>
<text class="tl" x="1575" y="817" text-anchor="middle">1</text>
<line x1="1678" y1="776.5" x2="1678" y2="799.5" class="tk"/>
<text class="tl" x="1678" y="817" text-anchor="middle">2</text>
<line x1="1781.7" y1="776.5" x2="1781.7" y2="799.5" class="tk"/>
<text class="tl" x="1781.7" y="817" text-anchor="middle">3</text>
<line x1="1885.4" y1="776.5" x2="1885.4" y2="799.5" class="tk"/>
<text class="tl" x="1885.4" y="817" text-anchor="middle">4</text>
<text class="lab" transform="translate(1405.5,624.5) rotate(-90)" text-anchor="middle">kJ mol<tspan class="sup" dy="-9.4">-1</tspan><tspan dy="9.4"> of injectant</tspan></text>
<path class="fit" d="M1505.5,693.97 L1514.04,685.91 L1522.57,676.6 L1531.11,665.99 L1539.65,654.15 L1548.34,641.03 L1557.02,627.16 L1566.02,612.51 L1575.01,598.12 L1583.55,585.17 L1592.09,573.24 L1600.62,562.54 L1609.16,553.13 L1618.3,544.44 L1627.45,537.08 L1636.6,530.88 L1645.74,525.68 L1654.28,521.58 L1662.82,518.09 L1671.96,514.92 L1681.11,512.25 L1690.41,509.93 L1699.71,507.97 L1708.85,506.31 L1718,504.88 L1727.15,503.65 L1736.29,502.57 L1745.44,501.64 L1754.59,500.82 L1764.49,500.04 L1774.4,499.36 L1783.55,498.81 L1792.7,498.32 L1802.45,497.85 L1812.21,497.44 L1821.35,497.1 L1830.5,496.79 L1840.26,496.5 L1850.01,496.23 L1859.77,496 L1869.52,495.79 L1879.28,495.6 L1889.04,495.43 L1898.79,495.28 L1908.55,495.14 L1918.3,495.02 L1928.06,494.91"/>
<circle cx="1505.5" cy="694.57" r="2.6" fill="#0000ff"/>
<circle cx="1522.57" cy="676.28" r="2.6" fill="#0000ff"/>
<circle cx="1539.65" cy="653.41" r="2.6" fill="#0000ff"/>
<circle cx="1557.02" cy="626.28" r="2.6" fill="#000"/>
<circle cx="1575.01" cy="600.67" r="2.6" fill="#0000ff"/>
<circle cx="1592.09" cy="573.54" r="2.6" fill="#0000ff"/>
<circle cx="1609.16" cy="550.67" r="2.6" fill="#0000ff"/>
<circle cx="1627.45" cy="537.26" r="2.6" fill="#0000ff"/>
<circle cx="1645.74" cy="526.28" r="2.6" fill="#0000ff"/>
<circle cx="1662.82" cy="518.35" r="2.6" fill="#0000ff"/>
<circle cx="1681.11" cy="511.34" r="2.6" fill="#0000ff"/>
<circle cx="1699.71" cy="508.9" r="2.6" fill="#0000ff"/>
<circle cx="1718" cy="505.24" r="2.6" fill="#0000ff"/>
<circle cx="1736.29" cy="502.8" r="2.6" fill="#0000ff"/>
<circle cx="1754.59" cy="500.37" r="2.6" fill="#0000ff"/>
<circle cx="1774.4" cy="497.93" r="2.6" fill="#0000ff"/>
<circle cx="1792.7" cy="499.15" r="2.6" fill="#0000ff"/>
<circle cx="1812.21" cy="496.71" r="2.6" fill="#0000ff"/>
<circle cx="1830.5" cy="497.93" r="2.6" fill="#0000ff"/>
<circle cx="1850.01" cy="495.49" r="2.6" fill="#0000ff"/>
<circle cx="1869.52" cy="496.71" r="2.6" fill="#0000ff"/>
<circle cx="1889.04" cy="496.71" r="2.6" fill="#0000ff"/>
<circle cx="1908.55" cy="494.27" r="2.6" fill="#0000ff"/>
<circle cx="1928.06" cy="494.27" r="2.6" fill="#0000ff"/>
<text class="kd" x="1702.2" y="667"><tspan font-style="italic">K</tspan><tspan class="kds" dy="1.8">d</tspan><tspan dx="1" dy="-1.8"> = 17 ± 2 µM</tspan></text>
<text class="kd" x="1702.2" y="698.5"><tspan font-style="italic">n</tspan> = 1.07 ± 0.04</text>
<text class="lab" x="1716.7" y="853.5" text-anchor="middle">Molar ratio</text>
<text class="let" x="-1.85" y="933.7">d</text>
<path class="dat" d="M113.5,1024.9 L134.89,1024.9 L134.91,1029.9 L136.09,1036.91 L136.49,1282.41 L136.93,1251.58 L136.94,1141.49 L138.23,1141.49 L138.24,1073.75 L139.53,1073.75 L139.54,1047.67 L140.83,1047.67 L140.84,1036.34 L142.13,1036.34 L142.14,1030.92 L143.43,1030.92 L143.44,1028.15 L144.73,1028.15 L144.74,1026.67 L146.03,1026.67 L146.04,1025.88 L147.33,1025.88 L147.34,1025.44 L148.63,1025.44 L148.64,1025.2 L153.83,1024.95 L153.85,1029.93 L155.03,1036.93 L155.43,1275.05 L156.31,1245.07 L156.31,1108.57 L157.61,1108.57 L157.61,1061.34 L158.91,1061.33 L158.91,1042.38 L160.21,1042.38 L160.21,1033.85 L161.51,1033.84 L161.51,1029.65 L162.81,1029.65 L162.81,1027.48 L164.11,1027.48 L164.11,1026.31 L165.41,1026.31 L165.41,1025.68 L166.71,1025.68 L166.71,1025.33 L168.01,1025.33 L168.01,1025.14 L169.31,1025.14 L169.31,1025.03 L172.76,1024.94 L172.78,1029.93 L173.97,1036.92 L174.37,1266.32 L174.98,1237.41 L174.98,1121.51 L176.28,1121.51 L176.28,1065.74 L177.58,1065.73 L177.58,1044.06 L178.88,1044.06 L178.88,1034.57 L180.18,1034.57 L180.18,1030 L181.48,1030 L181.48,1027.65 L182.78,1027.65 L182.78,1026.41 L184.08,1026.41 L184.08,1025.73 L185.38,1025.73 L185.38,1025.36 L186.68,1025.36 L186.68,1025.15 L187.98,1025.15 L187.98,1025.04 L191.7,1024.94 L191.72,1029.94 L192.9,1036.95 L193.3,1251.57 L194.35,1224.4 L194.35,1091.14 L195.65,1091.14 L195.65,1053.68 L196.95,1053.68 L196.95,1038.68 L198.25,1038.68 L198.25,1031.95 L199.55,1031.95 L199.55,1028.64 L200.85,1028.64 L200.85,1026.93 L202.15,1026.93 L202.15,1026.01 L203.45,1026.01 L203.45,1025.51 L204.75,1025.51 L204.75,1025.24 L206.05,1025.24 L206.05,1025.09 L207.35,1025 L210.64,1024.94 L210.66,1029.93 L211.84,1036.93 L212.24,1219.39 L213.02,1196.07 L213.03,1091.51 L214.32,1091.51 L214.33,1052.47 L215.62,1052.47 L215.63,1037.63 L216.92,1037.63 L216.93,1031.26 L218.22,1031.26 L218.23,1028.23 L219.52,1028.23 L219.53,1026.69 L220.82,1026.69 L220.83,1025.88 L222.12,1025.88 L222.13,1025.44 L223.42,1025.44 L223.43,1025.2 L229.58,1024.93 L229.6,1029.93 L230.78,1036.92 L231.18,1147.28 L231.7,1132.62 L231.7,1073.41 L233,1073.41 L233,1043.26 L234.3,1043.25 L234.3,1032.75 L235.6,1032.74 L235.6,1028.61 L236.9,1028.61 L236.9,1026.78 L238.2,1026.78 L238.2,1025.9 L239.5,1025.9 L239.5,1025.44 L240.8,1025.44 L240.8,1025.2 L242.1,1025.19 L242.1,1025.06 L248.52,1024.92 L248.54,1029.91 L249.72,1036.91 L250.12,1093.95 L251.07,1085.68 L251.07,1043.36 L252.37,1043.36 L252.37,1031.78 L253.67,1031.78 L253.67,1027.8 L254.97,1027.8 L254.97,1026.26 L256.27,1026.26 L256.27,1025.58 L257.57,1025.58 L257.57,1025.26 L261.47,1024.96 L267.46,1024.92 L267.48,1029.91 L268.66,1036.91 L269.06,1086.24 L269.74,1078.89 L269.74,1045.15 L271.04,1045.15 L271.04,1032.19 L272.34,1032.19 L272.34,1027.87 L273.64,1027.87 L273.64,1026.25 L274.94,1026.25 L274.94,1025.57 L276.24,1025.57 L276.24,1025.25 L280.14,1024.96 L286.4,1024.91 L286.42,1029.91 L287.6,1036.9 L288,1069.47 L289.11,1064.13 L289.12,1035.02 L290.41,1035.02 L290.42,1028.62 L291.71,1028.62 L291.72,1026.44 L293.01,1026.44 L293.02,1025.61 L294.31,1025.61 L294.32,1025.26 L295.61,1025.26 L295.62,1025.09 L298.22,1024.96 L305.34,1024.9 L305.36,1029.9 L306.54,1036.9 L306.94,1069.47 L307.79,1064.13 L307.79,1037.52 L309.09,1037.52 L309.09,1029.42 L310.39,1029.42 L310.39,1026.73 L311.69,1026.73 L311.69,1025.73 L312.99,1025.73 L312.99,1025.31 L314.29,1025.31 L314.29,1025.11 L324.28,1024.9 L324.3,1029.89 L325.48,1036.9 L325.88,1066.79 L326.46,1061.77 L326.46,1039.72 L327.76,1039.72 L327.76,1030.07 L329.06,1030.07 L329.06,1026.93 L330.36,1026.93 L330.36,1025.8 L331.66,1025.8 L331.66,1025.34 L332.96,1025.34 L332.96,1025.13 L336.86,1024.94 L343.22,1024.91 L343.24,1029.9 L344.42,1036.9 L344.82,1065.11 L345.83,1060.29 L345.83,1034.78 L347.13,1034.78 L347.13,1028.47 L348.43,1028.47 L348.43,1026.36 L349.73,1026.36 L349.73,1025.57 L351.03,1025.57 L351.03,1025.23 L354.93,1024.95 L362.16,1024.91 L362.18,1029.9 L363.36,1036.9 L363.76,1059.41 L364.5,1055.27 L364.5,1035.44 L365.8,1035.44 L365.8,1028.6 L367.1,1028.6 L367.1,1026.36 L368.4,1026.36 L368.4,1025.55 L369.7,1025.55 L369.7,1025.22 L373.6,1024.95 L381.1,1024.9 L381.12,1029.9 L382.3,1036.9 L382.7,1055.05 L383.18,1051.44 L383.18,1036.44 L384.48,1036.44 L384.48,1028.83 L385.78,1028.83 L385.78,1026.41 L387.08,1026.41 L387.08,1025.55 L388.38,1025.55 L388.38,1025.21 L389.68,1025.21 L389.68,1025.06 L400.04,1024.9 L400.06,1029.89 L401.24,1036.9 L401.64,1056.06 L402.55,1052.32 L402.55,1033.15 L403.85,1033.15 L403.85,1027.82 L405.15,1027.82 L405.15,1026.07 L406.45,1026.07 L406.45,1025.43 L407.75,1025.43 L407.75,1025.16 L409.05,1025.16 L409.05,1025.03 L418.98,1024.91 L419,1029.9 L420.18,1036.9 L420.58,1055.05 L421.22,1051.44 L421.22,1034.91 L422.52,1034.91 L422.52,1028.36 L423.82,1028.36 L423.82,1026.25 L425.12,1026.25 L425.12,1025.49 L426.42,1025.49 L426.42,1025.19 L430.32,1024.94 L437.92,1024.91 L437.94,1029.9 L439.12,1036.9 L439.52,1055.05 L440.59,1051.44 L440.59,1031.84 L441.89,1031.84 L441.89,1027.39 L443.19,1027.39 L443.19,1025.91 L444.49,1025.91 L444.49,1025.36 L445.79,1025.36 L445.79,1025.13 L449.69,1024.93 L456.86,1024.9 L456.88,1029.9 L458.06,1036.9 L458.46,1057.06 L459.26,1053.21 L459.27,1034.19 L460.56,1034.19 L460.57,1028.17 L461.86,1028.17 L461.87,1026.2 L463.16,1026.2 L463.17,1025.48 L464.46,1025.48 L464.47,1025.18 L465.76,1025.18 L465.77,1025.05 L467.07,1024.98 L475.8,1024.9 L475.82,1029.89 L477,1036.9 L477.4,1056.06 L477.94,1052.32 L477.94,1036.2 L479.24,1036.2 L479.24,1028.78 L480.54,1028.78 L480.54,1026.4 L481.84,1026.4 L481.84,1025.55 L483.14,1025.55 L483.14,1025.21 L484.44,1025.21 L484.44,1025.06 L485.74,1024.99 L494.74,1024.91 L494.76,1029.9 L495.94,1036.9 L496.34,1055.39 L497.31,1051.73 L497.31,1032.55 L498.61,1032.55 L498.61,1027.62 L499.91,1027.62 L499.91,1025.99 L501.21,1025.99 L501.21,1025.39 L502.51,1025.39 L502.51,1025.14 L503.81,1025.14 L503.81,1025.03 L513.68,1024.91 L513.7,1029.9 L514.88,1036.9 L515.28,1055.05 L515.98,1051.44 L515.98,1034.38 L517.28,1034.38 L517.28,1028.19 L518.58,1028.19 L518.58,1026.19 L519.88,1026.19 L519.88,1025.47 L521.18,1025.47 L521.18,1025.18 L525.08,1024.94 L532.62,1024.9 L532.64,1029.9 L533.82,1036.9 L534.22,1057.06 L535.35,1053.21 L535.36,1031.95 L536.65,1031.95 L536.66,1027.45 L537.95,1027.45 L537.96,1025.94 L539.25,1025.94 L539.26,1025.38 L540.55,1025.38 L540.56,1025.14 L544.46,1024.94 L551.56,1024.9 L551.58,1029.89 L552.76,1036.9 L553.16,1058.4 L554.03,1054.39 L554.03,1034.09 L555.33,1034.09 L555.33,1028.15 L556.63,1028.15 L556.63,1026.2 L557.93,1026.2 L557.93,1025.48 L559.23,1025.48 L559.23,1025.19 L560.53,1025.19 L560.53,1025.05 L570.5,1024.91 L570.52,1029.9 L571.7,1036.9 L572.1,1056.06 L572.7,1052.32 L572.7,1035.6 L574,1035.6 L574,1028.59 L575.3,1028.59 L575.3,1026.33 L576.6,1026.33 L576.6,1025.53 L577.9,1025.53 L577.9,1025.2 L579.2,1025.2 L579.2,1025.06 L580.5,1024.98 L607.5,1024.9"/>
<rect x="113" y="999" width="501.7" height="673.7" class="fr"/>
<line x1="113" y1="1336" x2="614.7" y2="1336" class="fr"/>
<line x1="222.3" y1="988" x2="222.3" y2="1010" class="tk"/>
<text class="tl" x="222.3" y="989" text-anchor="middle">2000</text>
<line x1="348.8" y1="988" x2="348.8" y2="1010" class="tk"/>
<text class="tl" x="348.8" y="989" text-anchor="middle">4000</text>
<line x1="475.2" y1="988" x2="475.2" y2="1010" class="tk"/>
<text class="tl" x="475.2" y="989" text-anchor="middle">6000</text>
<line x1="602" y1="988" x2="602" y2="1010" class="tk"/>
<text class="tl" x="602" y="989" text-anchor="middle">8000</text>
<text class="lab" x="374.9" y="966.5" text-anchor="middle">Time (s)</text>
<line x1="101" y1="1024.9" x2="123" y2="1024.9" class="tk"/>
<text class="tl" x="100.7" y="1032.3" text-anchor="end">0</text>
<line x1="101" y1="1094" x2="123" y2="1094" class="tk"/>
<text class="tl" x="100.7" y="1101.4" text-anchor="end">-2</text>
<line x1="101" y1="1162.7" x2="123" y2="1162.7" class="tk"/>
<text class="tl" x="100.7" y="1170.1" text-anchor="end">-4</text>
<line x1="101" y1="1232.1" x2="123" y2="1232.1" class="tk"/>
<text class="tl" x="100.7" y="1239.5" text-anchor="end">-6</text>
<line x1="101" y1="1300.9" x2="123" y2="1300.9" class="tk"/>
<text class="tl" x="100.7" y="1308.3" text-anchor="end">-8</text>
<text class="lab" transform="translate(62.8,1162.5) rotate(-90)" text-anchor="middle">µJ s<tspan class="sup" dy="-9.4">-1</tspan></text>
<text class="ttl" x="289.7" y="1324">P<tspan class="subi" dy="4.9">clpV</tspan><tspan dy="-4.9"> : H-NS</tspan></text>
<line x1="101" y1="1376.1" x2="123" y2="1376.1" class="tk"/>
<text class="tl" x="100.7" y="1383.5" text-anchor="end">0</text>
<line x1="101" y1="1418.8" x2="123" y2="1418.8" class="tk"/>
<text class="tl" x="100.7" y="1426.2" text-anchor="end">-10</text>
<line x1="101" y1="1461.2" x2="123" y2="1461.2" class="tk"/>
<text class="tl" x="100.7" y="1468.6" text-anchor="end">-20</text>
<line x1="101" y1="1502.9" x2="123" y2="1502.9" class="tk"/>
<text class="tl" x="100.7" y="1510.3" text-anchor="end">-30</text>
<line x1="101" y1="1545.6" x2="123" y2="1545.6" class="tk"/>
<text class="tl" x="100.7" y="1553" text-anchor="end">-40</text>
<line x1="101" y1="1588.3" x2="123" y2="1588.3" class="tk"/>
<text class="tl" x="100.7" y="1595.7" text-anchor="end">-50</text>
<line x1="101" y1="1630.4" x2="123" y2="1630.4" class="tk"/>
<text class="tl" x="100.7" y="1637.8" text-anchor="end">-60</text>
<line x1="115.4" y1="1661.7" x2="115.4" y2="1684.7" class="tk"/>
<text class="tl" x="115.4" y="1702.2" text-anchor="middle">0</text>
<line x1="216" y1="1661.7" x2="216" y2="1684.7" class="tk"/>
<text class="tl" x="216" y="1702.2" text-anchor="middle">1</text>
<line x1="317.8" y1="1661.7" x2="317.8" y2="1684.7" class="tk"/>
<text class="tl" x="317.8" y="1702.2" text-anchor="middle">2</text>
<line x1="419" y1="1661.7" x2="419" y2="1684.7" class="tk"/>
<text class="tl" x="419" y="1702.2" text-anchor="middle">3</text>
<line x1="519.9" y1="1661.7" x2="519.9" y2="1684.7" class="tk"/>
<text class="tl" x="519.9" y="1702.2" text-anchor="middle">4</text>
<text class="lab" transform="translate(58.3,1511.3) rotate(-90)" text-anchor="middle">kJ mol<tspan class="sup" dy="-9.4">-1</tspan><tspan dy="9.4"> of injectant</tspan></text>
<path class="fit" d="M150.43,1627.14 L159.73,1625.82 L169.02,1624.06 L177.56,1621.81 L186.1,1618.61 L195.09,1613.46 L204.09,1605.04 L213.08,1590.53 L222.07,1565.12 L231.22,1524.29 L240.37,1476.52 L248.75,1441.52 L257.13,1419.24 L266.43,1404.98 L275.73,1396.83 L284.88,1391.94 L294.02,1388.76 L303.63,1386.47 L313.23,1384.84 L322.53,1383.64 L331.83,1382.7 L340.82,1381.95 L349.82,1381.33 L358.96,1380.78 L368.11,1380.29 L377.87,1379.83 L387.62,1379.41 L396.77,1379.05 L405.91,1378.72 L415.67,1378.38 L425.43,1378.05 L434.57,1377.77 L443.72,1377.49 L453.48,1377.2 L463.23,1376.92 L472.99,1376.65 L482.74,1376.38 L492.5,1376.12 L502.26,1375.86 L511.86,1375.62 L521.46,1375.37 L531.07,1375.13 L540.67,1374.89 L550.58,1374.64 L560.49,1374.39 L570.24,1374.16 L580,1373.92"/>
<circle cx="150.43" cy="1628.84" r="2.6" fill="#0000ff"/>
<circle cx="169.02" cy="1625.18" r="2.6" fill="#0000ff"/>
<circle cx="186.1" cy="1617.26" r="2.6" fill="#0000ff"/>
<circle cx="204.09" cy="1602.62" r="2.6" fill="#0000ff"/>
<circle cx="222.07" cy="1566.04" r="2.6" fill="#0000ff"/>
<circle cx="240.37" cy="1477.32" r="2.6" fill="#0000ff"/>
<circle cx="257.13" cy="1416.65" r="2.6" fill="#0000ff"/>
<circle cx="275.73" cy="1398.05" r="2.6" fill="#0000ff"/>
<circle cx="294.02" cy="1389.51" r="2.6" fill="#0000ff"/>
<circle cx="313.23" cy="1385.55" r="2.6" fill="#0000ff"/>
<circle cx="331.83" cy="1383.41" r="2.6" fill="#0000ff"/>
<circle cx="349.82" cy="1381.28" r="2.6" fill="#0000ff"/>
<circle cx="368.11" cy="1379.76" r="2.6" fill="#0000ff"/>
<circle cx="387.62" cy="1378.54" r="2.6" fill="#0000ff"/>
<circle cx="405.91" cy="1378.54" r="2.6" fill="#0000ff"/>
<circle cx="425.43" cy="1377.32" r="2.6" fill="#0000ff"/>
<circle cx="443.72" cy="1377.32" r="2.6" fill="#0000ff"/>
<circle cx="463.23" cy="1376.4" r="2.6" fill="#0000ff"/>
<circle cx="482.74" cy="1376.4" r="2.6" fill="#0000ff"/>
<circle cx="502.26" cy="1376.4" r="2.6" fill="#0000ff"/>
<circle cx="521.46" cy="1375.18" r="2.6" fill="#0000ff"/>
<circle cx="540.67" cy="1375.18" r="2.6" fill="#0000ff"/>
<circle cx="560.49" cy="1375.18" r="2.6" fill="#0000ff"/>
<circle cx="580" cy="1373.96" r="2.6" fill="#0000ff"/>
<text class="kd" x="313.4" y="1551.7"><tspan font-style="italic">K</tspan><tspan class="kds" dy="1.8">d</tspan><tspan dx="1" dy="-1.8"> = 0.31 ± 0.06 µM</tspan></text>
<text class="kd" x="313.4" y="1583.5"><tspan font-style="italic">n</tspan> = 1.04 ± 0.04</text>
<text class="lab" x="356.7" y="1728" text-anchor="middle">Molar ratio</text>
<text class="let" x="664.2" y="933.9">e</text>
<path class="dat" d="M781.5,1024.2 L803.94,1024.2 L803.96,1029.2 L805.14,1036.2 L805.54,1290.79 L805.99,1258.88 L805.99,1144.9 L807.29,1144.9 L807.29,1074.78 L808.59,1074.78 L808.59,1047.78 L809.89,1047.78 L809.89,1036.05 L811.19,1036.05 L811.19,1030.43 L812.49,1030.43 L812.49,1027.56 L813.79,1027.56 L813.79,1026.04 L815.09,1026.04 L815.09,1025.21 L816.39,1025.21 L816.39,1024.76 L817.69,1024.76 L817.69,1024.51 L822.85,1024.26 L822.87,1029.25 L824.05,1036.25 L824.45,1284.11 L825.33,1252.96 L825.33,1111.14 L826.63,1111.13 L826.63,1062.06 L827.93,1062.05 L827.93,1042.36 L829.23,1042.36 L829.23,1033.49 L830.53,1033.49 L830.53,1029.14 L831.83,1029.14 L831.83,1026.88 L833.13,1026.88 L833.13,1025.67 L834.43,1025.67 L834.43,1025.01 L835.73,1025.01 L835.73,1024.65 L837.03,1024.65 L837.03,1024.45 L838.33,1024.45 L838.33,1024.34 L841.76,1024.24 L841.78,1029.23 L842.96,1036.22 L843.36,1275.71 L843.98,1245.59 L843.98,1125.48 L845.28,1125.47 L845.28,1067.28 L846.58,1067.28 L846.58,1044.51 L847.88,1044.51 L847.88,1034.48 L849.18,1034.48 L849.18,1029.63 L850.48,1029.63 L850.48,1027.14 L851.78,1027.14 L851.78,1025.81 L853.08,1025.81 L853.08,1025.08 L854.38,1025.08 L854.38,1024.69 L855.68,1024.69 L855.68,1024.47 L856.98,1024.47 L856.98,1024.35 L860.67,1024.25 L860.69,1029.25 L861.87,1036.23 L862.27,1259.62 L863.32,1231.4 L863.32,1093.6 L864.62,1093.59 L864.62,1054.54 L865.92,1054.54 L865.92,1038.8 L867.22,1038.8 L867.22,1031.68 L868.52,1031.68 L868.52,1028.18 L869.82,1028.18 L869.82,1026.36 L871.12,1026.36 L871.12,1025.38 L872.42,1025.38 L872.42,1024.85 L873.72,1024.85 L873.72,1024.56 L875.02,1024.56 L875.02,1024.4 L876.32,1024.31 L879.58,1024.24 L879.6,1029.23 L880.78,1036.23 L881.18,1217.04 L881.96,1193.92 L881.96,1090.15 L883.26,1090.15 L883.26,1051.46 L884.56,1051.46 L884.56,1036.77 L885.86,1036.77 L885.86,1030.47 L887.16,1030.47 L887.16,1027.49 L888.46,1027.49 L888.46,1025.97 L889.76,1025.97 L889.76,1025.17 L891.06,1025.17 L891.06,1024.73 L892.36,1024.73 L892.36,1024.49 L898.49,1024.23 L898.51,1029.22 L899.69,1036.22 L900.09,1152.31 L900.6,1136.97 L900.61,1075.19 L901.9,1075.19 L901.91,1043.6 L903.2,1043.6 L903.21,1032.54 L904.5,1032.53 L904.51,1028.16 L905.8,1028.16 L905.81,1026.21 L907.1,1026.21 L907.11,1025.27 L908.4,1025.27 L908.41,1024.78 L909.7,1024.78 L909.71,1024.52 L911,1024.52 L911.01,1024.37 L917.4,1024.22 L917.42,1029.22 L918.6,1036.21 L919,1095.3 L919.95,1086.78 L919.95,1043.25 L921.25,1043.25 L921.25,1031.31 L922.55,1031.31 L922.55,1027.2 L923.85,1027.2 L923.85,1025.61 L925.15,1025.61 L925.15,1024.91 L926.45,1024.91 L926.45,1024.57 L927.75,1024.57 L927.75,1024.4 L930.35,1024.26 L936.31,1024.22 L936.33,1029.21 L937.51,1036.21 L937.91,1082.55 L938.59,1075.56 L938.59,1043.41 L939.89,1043.41 L939.89,1031.09 L941.19,1031.09 L941.19,1027 L942.49,1027 L942.49,1025.47 L943.79,1025.47 L943.79,1024.83 L945.09,1024.83 L945.09,1024.53 L948.99,1024.25 L955.22,1024.2 L955.24,1029.2 L956.42,1036.2 L956.82,1075.84 L957.93,1069.65 L957.94,1036.03 L959.23,1036.03 L959.24,1028.58 L960.53,1028.58 L960.54,1026.04 L961.83,1026.04 L961.84,1025.06 L963.13,1025.06 L963.14,1024.63 L964.43,1024.63 L964.44,1024.43 L967.04,1024.27 L974.13,1024.21 L974.15,1029.2 L975.34,1036.2 L975.74,1071.15 L976.58,1065.52 L976.58,1037.52 L977.88,1037.52 L977.88,1028.99 L979.18,1028.99 L979.18,1026.15 L980.48,1026.15 L980.48,1025.09 L981.78,1025.09 L981.78,1024.64 L983.08,1024.64 L983.08,1024.43 L986.98,1024.24 L993.05,1024.21 L993.07,1029.2 L994.25,1036.2 L994.65,1060.08 L995.22,1055.78 L995.22,1036.83 L996.52,1036.83 L996.52,1028.57 L997.82,1028.57 L997.82,1025.91 L999.12,1025.91 L999.12,1024.95 L1000.42,1024.95 L1000.42,1024.56 L1001.72,1024.56 L1001.72,1024.39 L1004.32,1024.25 L1011.96,1024.2 L1011.98,1029.2 L1013.16,1036.2 L1013.56,1062.76 L1014.56,1058.14 L1014.57,1033.65 L1015.86,1033.65 L1015.87,1027.61 L1017.16,1027.61 L1017.17,1025.59 L1018.46,1025.59 L1018.47,1024.84 L1019.76,1024.84 L1019.77,1024.52 L1021.06,1024.52 L1021.07,1024.36 L1022.37,1024.29 L1030.87,1024.21 L1030.89,1029.2 L1032.07,1036.2 L1032.47,1057.4 L1033.21,1053.42 L1033.21,1034.33 L1034.51,1034.33 L1034.51,1027.74 L1035.81,1027.74 L1035.81,1025.6 L1037.11,1025.6 L1037.11,1024.82 L1038.41,1024.82 L1038.41,1024.5 L1042.31,1024.25 L1049.78,1024.2 L1049.8,1029.22 L1050.98,1036.2 L1051.38,1060.08 L1051.85,1055.78 L1051.85,1037.99 L1053.15,1037.99 L1053.15,1028.93 L1054.45,1028.93 L1054.45,1026.03 L1055.75,1026.03 L1055.75,1025 L1057.05,1025 L1057.05,1024.58 L1058.35,1024.58 L1058.35,1024.4 L1068.69,1024.2 L1068.71,1029.2 L1069.89,1036.2 L1070.29,1057.4 L1071.19,1053.42 L1071.2,1033.01 L1072.49,1033.01 L1072.5,1027.33 L1073.79,1027.33 L1073.8,1025.46 L1075.09,1025.46 L1075.1,1024.77 L1076.39,1024.77 L1076.4,1024.48 L1080.3,1024.24 L1087.6,1024.21 L1087.62,1029.2 L1088.8,1036.2 L1089.2,1062.76 L1089.84,1058.14 L1089.84,1037.09 L1091.14,1037.09 L1091.14,1028.7 L1092.44,1028.7 L1092.44,1025.97 L1093.74,1025.97 L1093.74,1024.99 L1095.04,1024.99 L1095.04,1024.58 L1096.34,1024.58 L1096.34,1024.4 L1097.64,1024.31 L1106.51,1024.2 L1106.53,1029.19 L1107.71,1036.2 L1108.11,1057.4 L1109.18,1053.42 L1109.18,1031.87 L1110.48,1031.87 L1110.48,1026.97 L1111.78,1026.97 L1111.78,1025.33 L1113.08,1025.33 L1113.08,1024.71 L1114.38,1024.71 L1114.38,1024.45 L1118.28,1024.24 L1125.42,1024.2 L1125.44,1029.2 L1126.62,1036.2 L1127.02,1061.09 L1127.82,1056.67 L1127.83,1034.91 L1129.12,1034.91 L1129.13,1027.99 L1130.42,1027.99 L1130.43,1025.71 L1131.72,1025.71 L1131.73,1024.88 L1133.02,1024.88 L1133.03,1024.53 L1134.32,1024.53 L1134.33,1024.37 L1144.33,1024.21 L1144.35,1029.2 L1145.53,1036.2 L1145.93,1056.73 L1146.47,1052.83 L1146.47,1036.01 L1147.77,1036.01 L1147.77,1028.26 L1149.07,1028.26 L1149.07,1025.77 L1150.37,1025.77 L1150.37,1024.89 L1151.67,1024.89 L1151.67,1024.53 L1152.97,1024.53 L1152.97,1024.37 L1163.24,1024.2 L1163.26,1029.19 L1164.44,1036.2 L1164.84,1063.43 L1165.81,1058.73 L1165.81,1034.14 L1167.11,1034.14 L1167.11,1027.78 L1168.41,1027.78 L1168.41,1025.66 L1169.71,1025.66 L1169.71,1024.86 L1171.01,1024.86 L1171.01,1024.53 L1172.31,1024.53 L1172.31,1024.37 L1182.15,1024.2 L1182.17,1029.2 L1183.35,1036.2 L1183.75,1058.41 L1184.45,1054.31 L1184.45,1035 L1185.75,1035 L1185.75,1027.97 L1187.05,1027.97 L1187.05,1025.69 L1188.35,1025.69 L1188.35,1024.86 L1189.65,1024.86 L1189.65,1024.52 L1193.55,1024.25 L1201.06,1024.21 L1201.08,1029.2 L1202.26,1036.2 L1202.66,1063.77 L1203.8,1059.03 L1203.8,1032.95 L1205.1,1032.95 L1205.1,1027.4 L1206.4,1027.4 L1206.4,1025.52 L1207.7,1025.52 L1207.7,1024.81 L1209,1024.81 L1209,1024.5 L1210.3,1024.5 L1210.3,1024.36 L1219.97,1024.2 L1219.99,1029.19 L1221.17,1036.2 L1221.57,1058.4 L1222.44,1054.3 L1222.44,1033.59 L1223.74,1033.59 L1223.74,1027.53 L1225.04,1027.53 L1225.04,1025.53 L1226.34,1025.53 L1226.34,1024.8 L1227.64,1024.8 L1227.64,1024.49 L1231.54,1024.24 L1238.88,1024.2 L1238.9,1029.2 L1240.08,1036.2 L1240.48,1065.11 L1241.08,1060.21 L1241.08,1038.37 L1242.38,1038.37 L1242.38,1029.15 L1243.68,1029.15 L1243.68,1026.15 L1244.98,1026.15 L1244.98,1025.06 L1246.28,1025.06 L1246.28,1024.62 L1247.58,1024.62 L1247.58,1024.42 L1248.88,1024.42 L1248.88,1024.32 L1275.5,1024.2"/>
<rect x="781.4" y="999" width="501.7" height="673.7" class="fr"/>
<line x1="781.4" y1="1336" x2="1283.1" y2="1336" class="fr"/>
<line x1="890.7" y1="988" x2="890.7" y2="1010" class="tk"/>
<text class="tl" x="890.7" y="989" text-anchor="middle">2000</text>
<line x1="1016.8" y1="988" x2="1016.8" y2="1010" class="tk"/>
<text class="tl" x="1016.8" y="989" text-anchor="middle">4000</text>
<line x1="1143.6" y1="988" x2="1143.6" y2="1010" class="tk"/>
<text class="tl" x="1143.6" y="989" text-anchor="middle">6000</text>
<line x1="1269.7" y1="988" x2="1269.7" y2="1010" class="tk"/>
<text class="tl" x="1269.7" y="989" text-anchor="middle">8000</text>
<text class="lab" x="1033.9" y="966.5" text-anchor="middle">Time (s)</text>
<line x1="769.4" y1="1024.2" x2="791.4" y2="1024.2" class="tk"/>
<text class="tl" x="769.1" y="1031.6" text-anchor="end">0</text>
<line x1="769.4" y1="1089.6" x2="791.4" y2="1089.6" class="tk"/>
<text class="tl" x="769.1" y="1097" text-anchor="end">-2</text>
<line x1="769.4" y1="1155" x2="791.4" y2="1155" class="tk"/>
<text class="tl" x="769.1" y="1162.4" text-anchor="end">-4</text>
<line x1="769.4" y1="1220.4" x2="791.4" y2="1220.4" class="tk"/>
<text class="tl" x="769.1" y="1227.8" text-anchor="end">-6</text>
<line x1="769.4" y1="1285.8" x2="791.4" y2="1285.8" class="tk"/>
<text class="tl" x="769.1" y="1293.2" text-anchor="end">-8</text>
<text class="lab" transform="translate(731.2,1162.5) rotate(-90)" text-anchor="middle">µJ s<tspan class="sup" dy="-9.4">-1</tspan></text>
<text class="ttl" x="928.5" y="1323">P<tspan class="subi" dy="4.9">clpV</tspan><tspan dy="-4.9"> : H-NS</tspan><tspan class="sub" dx="0.4" dy="4.9">K107A</tspan></text>
<line x1="769.4" y1="1370.3" x2="791.4" y2="1370.3" class="tk"/>
<text class="tl" x="769.1" y="1377.7" text-anchor="end">0</text>
<line x1="769.4" y1="1408.4" x2="791.4" y2="1408.4" class="tk"/>
<text class="tl" x="769.1" y="1415.8" text-anchor="end">-10</text>
<line x1="769.4" y1="1446.8" x2="791.4" y2="1446.8" class="tk"/>
<text class="tl" x="769.1" y="1454.2" text-anchor="end">-20</text>
<line x1="769.4" y1="1484.9" x2="791.4" y2="1484.9" class="tk"/>
<text class="tl" x="769.1" y="1492.3" text-anchor="end">-30</text>
<line x1="769.4" y1="1523" x2="791.4" y2="1523" class="tk"/>
<text class="tl" x="769.1" y="1530.4" text-anchor="end">-40</text>
<line x1="769.4" y1="1560.9" x2="791.4" y2="1560.9" class="tk"/>
<text class="tl" x="769.1" y="1568.3" text-anchor="end">-50</text>
<line x1="769.4" y1="1599.3" x2="791.4" y2="1599.3" class="tk"/>
<text class="tl" x="769.1" y="1606.7" text-anchor="end">-60</text>
<line x1="769.4" y1="1637.4" x2="791.4" y2="1637.4" class="tk"/>
<text class="tl" x="769.1" y="1644.8" text-anchor="end">-70</text>
<line x1="788.7" y1="1661.7" x2="788.7" y2="1684.7" class="tk"/>
<text class="tl" x="788.7" y="1702.2" text-anchor="middle">0</text>
<line x1="894.2" y1="1661.7" x2="894.2" y2="1684.7" class="tk"/>
<text class="tl" x="894.2" y="1702.2" text-anchor="middle">1</text>
<line x1="1001.2" y1="1661.7" x2="1001.2" y2="1684.7" class="tk"/>
<text class="tl" x="1001.2" y="1702.2" text-anchor="middle">2</text>
<line x1="1107" y1="1661.7" x2="1107" y2="1684.7" class="tk"/>
<text class="tl" x="1107" y="1702.2" text-anchor="middle">3</text>
<line x1="1214" y1="1661.7" x2="1214" y2="1684.7" class="tk"/>
<text class="tl" x="1214" y="1702.2" text-anchor="middle">4</text>
<text class="lab" transform="translate(726.8,1511.3) rotate(-90)" text-anchor="middle">kJ mol<tspan class="sup" dy="-9.4">-1</tspan><tspan dy="9.4"> of injectant</tspan></text>
<path class="fit" d="M822.56,1625.03 L831.71,1623.57 L840.85,1621.52 L850,1618.56 L859.15,1614.15 L867.68,1607.93 L876.22,1598.36 L885.21,1582.41 L894.21,1557.42 L903.35,1521.51 L912.5,1480.73 L921.65,1445.66 L930.79,1421.3 L939.33,1406.75 L947.87,1397.43 L957.01,1391.02 L966.16,1386.83 L975.91,1383.85 L985.67,1381.82 L994.82,1380.48 L1003.96,1379.51 L1013.11,1378.79 L1022.26,1378.25 L1031.4,1377.85 L1040.55,1377.55 L1049.7,1377.33 L1058.84,1377.17 L1068.6,1377.05 L1078.35,1376.97 L1087.5,1376.93 L1096.65,1376.91 L1106.4,1376.91 L1116.16,1376.93 L1125.3,1376.97 L1134.45,1377.01 L1144.21,1377.07 L1153.96,1377.14 L1163.72,1377.22 L1173.48,1377.3 L1183.23,1377.39 L1192.99,1377.49 L1202.74,1377.58 L1212.5,1377.69 L1222.26,1377.79 L1232.01,1377.9 L1241.16,1378.01 L1250.3,1378.12"/>
<circle cx="822.56" cy="1625.49" r="2.6" fill="#0000ff"/>
<circle cx="840.85" cy="1620.91" r="2.6" fill="#0000ff"/>
<circle cx="859.15" cy="1614.51" r="2.6" fill="#0000ff"/>
<circle cx="876.22" cy="1598.66" r="2.6" fill="#0000ff"/>
<circle cx="894.21" cy="1556.28" r="2.6" fill="#0000ff"/>
<circle cx="912.5" cy="1482.2" r="2.6" fill="#0000ff"/>
<circle cx="930.79" cy="1420" r="2.6" fill="#0000ff"/>
<circle cx="947.87" cy="1396.83" r="2.6" fill="#0000ff"/>
<circle cx="966.16" cy="1387.07" r="2.6" fill="#0000ff"/>
<circle cx="985.67" cy="1382.2" r="2.6" fill="#0000ff"/>
<circle cx="1003.96" cy="1380.98" r="2.6" fill="#0000ff"/>
<circle cx="1022.26" cy="1378.84" r="2.6" fill="#0000ff"/>
<circle cx="1040.55" cy="1376.4" r="2.6" fill="#0000ff"/>
<circle cx="1058.84" cy="1376.4" r="2.6" fill="#0000ff"/>
<circle cx="1078.35" cy="1376.4" r="2.6" fill="#0000ff"/>
<circle cx="1096.65" cy="1377.62" r="2.6" fill="#0000ff"/>
<circle cx="1116.16" cy="1376.4" r="2.6" fill="#0000ff"/>
<circle cx="1134.45" cy="1377.62" r="2.6" fill="#0000ff"/>
<circle cx="1153.96" cy="1376.4" r="2.6" fill="#0000ff"/>
<circle cx="1173.48" cy="1378.84" r="2.6" fill="#0000ff"/>
<circle cx="1192.99" cy="1376.4" r="2.6" fill="#0000ff"/>
<circle cx="1212.5" cy="1378.84" r="2.6" fill="#0000ff"/>
<circle cx="1232.01" cy="1377.62" r="2.6" fill="#0000ff"/>
<circle cx="1250.3" cy="1377.62" r="2.6" fill="#0000ff"/>
<text class="kd" x="985.4" y="1553.9"><tspan font-style="italic">K</tspan><tspan class="kds" dy="1.8">d</tspan><tspan dx="1" dy="-1.8"> = 0.32 ± 0.03 µM</tspan></text>
<text class="kd" x="985.4" y="1586.2"><tspan font-style="italic">n</tspan> = 1.04 ± 0.05</text>
<text class="lab" x="1034.2" y="1732" text-anchor="middle">Molar ratio</text>
<text class="let" x="1342.5" y="933.5">f</text>
<path class="dat" d="M1460,1025.2 L1462.29,1025.2 L1462.31,1030.19 L1463.49,1037.2 L1463.89,1046.96 L1464.34,1044.35 L1464.34,1033.65 L1465.64,1033.65 L1465.64,1028.05 L1466.94,1028.05 L1466.94,1026.28 L1468.24,1026.28 L1468.24,1025.66 L1469.54,1025.66 L1469.54,1025.42 L1470.84,1025.42 L1470.84,1025.31 L1481.09,1025.2 L1481.11,1030.19 L1482.29,1037.2 L1482.69,1257.67 L1483.58,1229.82 L1483.58,1101.76 L1484.88,1101.76 L1484.88,1058.12 L1486.18,1058.12 L1486.18,1040.85 L1487.48,1040.85 L1487.48,1033.16 L1488.78,1033.16 L1488.78,1029.42 L1490.08,1029.42 L1490.08,1027.48 L1491.38,1027.48 L1491.38,1026.45 L1492.68,1026.45 L1492.68,1025.89 L1493.98,1025.89 L1493.98,1025.58 L1495.28,1025.58 L1495.28,1025.41 L1496.58,1025.32 L1500.05,1025.25 L1500.07,1030.24 L1501.25,1037.24 L1501.65,1239.87 L1502.27,1214.15 L1502.27,1109.44 L1503.57,1109.43 L1503.57,1060.09 L1504.87,1060.09 L1504.87,1041.32 L1506.17,1041.31 L1506.17,1033.25 L1507.47,1033.25 L1507.47,1029.42 L1508.77,1029.42 L1508.77,1027.47 L1510.07,1027.47 L1510.07,1026.44 L1511.37,1026.44 L1511.37,1025.88 L1512.67,1025.88 L1512.67,1025.58 L1513.97,1025.58 L1513.97,1025.41 L1515.27,1025.32 L1519.01,1025.24 L1519.03,1030.24 L1520.21,1037.22 L1520.61,1225.27 L1521.66,1201.29 L1521.66,1082.12 L1522.96,1082.11 L1522.96,1049.44 L1524.26,1049.44 L1524.26,1036.64 L1525.56,1036.64 L1525.56,1031 L1526.86,1031 L1526.86,1028.26 L1528.16,1028.26 L1528.16,1026.86 L1529.46,1026.86 L1529.46,1026.11 L1530.76,1026.11 L1530.76,1025.7 L1532.06,1025.7 L1532.06,1025.48 L1537.97,1025.23 L1537.99,1030.22 L1539.17,1037.21 L1539.57,1204.84 L1540.35,1183.32 L1540.35,1085.95 L1541.65,1085.94 L1541.65,1050.04 L1542.95,1050.03 L1542.95,1036.55 L1544.25,1036.55 L1544.25,1030.83 L1545.55,1030.83 L1545.55,1028.14 L1546.85,1028.14 L1546.85,1026.78 L1548.15,1026.78 L1548.15,1026.06 L1549.45,1026.06 L1549.45,1025.67 L1550.75,1025.67 L1550.75,1025.46 L1556.93,1025.23 L1556.95,1030.22 L1558.13,1037.23 L1558.53,1180.54 L1559.04,1161.93 L1559.04,1088.24 L1560.34,1088.23 L1560.34,1049.8 L1561.64,1049.8 L1561.64,1036.01 L1562.94,1036.01 L1562.94,1030.42 L1564.24,1030.42 L1564.24,1027.88 L1565.54,1027.88 L1565.54,1026.63 L1566.84,1026.63 L1566.84,1025.98 L1568.14,1025.98 L1568.14,1025.63 L1569.44,1025.63 L1569.44,1025.43 L1575.88,1025.22 L1575.9,1030.22 L1577.08,1037.21 L1577.48,1165.94 L1578.43,1149.07 L1578.43,1065.78 L1579.73,1065.78 L1579.73,1041.48 L1581.03,1041.48 L1581.03,1032.53 L1582.33,1032.53 L1582.33,1028.8 L1583.63,1028.8 L1583.63,1027.07 L1584.93,1027.07 L1584.93,1026.2 L1586.23,1026.2 L1586.23,1025.74 L1587.53,1025.74 L1587.53,1025.5 L1588.83,1025.5 L1588.83,1025.37 L1594.84,1025.22 L1594.86,1030.21 L1596.04,1037.21 L1596.44,1151.35 L1597.12,1136.24 L1597.12,1069.23 L1598.42,1069.23 L1598.42,1042.19 L1599.72,1042.19 L1599.72,1032.59 L1601.02,1032.59 L1601.02,1028.74 L1602.32,1028.74 L1602.32,1027.01 L1603.62,1027.01 L1603.62,1026.16 L1604.92,1026.16 L1604.92,1025.72 L1606.22,1025.72 L1606.22,1025.49 L1607.52,1025.49 L1607.52,1025.36 L1613.8,1025.22 L1613.82,1030.21 L1615,1037.22 L1615.4,1140.98 L1616.51,1127.1 L1616.51,1053.88 L1617.81,1053.88 L1617.81,1036.62 L1619.11,1036.61 L1619.11,1030.3 L1620.41,1030.3 L1620.41,1027.69 L1621.71,1027.69 L1621.71,1026.49 L1623.01,1026.49 L1623.01,1025.89 L1624.31,1025.89 L1624.31,1025.58 L1625.61,1025.58 L1625.61,1025.41 L1626.91,1025.31 L1632.76,1025.21 L1632.78,1030.21 L1633.96,1037.21 L1634.36,1120.88 L1635.2,1109.41 L1635.2,1053.73 L1636.5,1053.73 L1636.5,1036.04 L1637.8,1036.04 L1637.8,1029.85 L1639.1,1029.85 L1639.1,1027.41 L1640.4,1027.41 L1640.4,1026.32 L1641.7,1026.32 L1641.7,1025.79 L1643,1025.79 L1643,1025.52 L1644.3,1025.52 L1644.3,1025.38 L1645.6,1025.3 L1651.72,1025.21 L1651.74,1030.2 L1652.92,1037.2 L1653.32,1112.44 L1653.89,1102 L1653.89,1057.21 L1655.19,1057.21 L1655.19,1036.96 L1656.49,1036.95 L1656.49,1030.08 L1657.79,1030.08 L1657.79,1027.46 L1659.09,1027.46 L1659.09,1026.33 L1660.39,1026.33 L1660.39,1025.79 L1661.69,1025.79 L1661.69,1025.52 L1662.99,1025.52 L1662.99,1025.37 L1664.29,1025.3 L1670.68,1025.22 L1670.7,1030.21 L1671.88,1037.21 L1672.28,1104.67 L1673.28,1095.14 L1673.29,1045.63 L1674.58,1045.63 L1674.59,1032.95 L1675.88,1032.95 L1675.89,1028.52 L1677.18,1028.52 L1677.19,1026.77 L1678.48,1026.77 L1678.49,1026 L1679.78,1026 L1679.79,1025.62 L1681.08,1025.62 L1681.09,1025.43 L1683.69,1025.27 L1689.63,1025.21 L1689.65,1030.21 L1690.83,1037.2 L1691.23,1096.56 L1691.97,1088.01 L1691.98,1047.77 L1693.27,1047.77 L1693.28,1033.47 L1694.57,1033.47 L1694.58,1028.63 L1695.87,1028.63 L1695.88,1026.78 L1697.17,1026.78 L1697.18,1025.99 L1698.47,1025.99 L1698.48,1025.62 L1699.77,1025.62 L1699.78,1025.42 L1702.38,1025.27 L1708.59,1025.21 L1708.61,1030.2 L1709.79,1037.2 L1710.19,1092.34 L1710.66,1084.31 L1710.67,1051.61 L1711.96,1051.61 L1711.97,1034.6 L1713.26,1034.6 L1713.27,1028.98 L1714.56,1028.98 L1714.57,1026.91 L1715.86,1026.91 L1715.87,1026.04 L1717.16,1026.04 L1717.17,1025.64 L1718.46,1025.64 L1718.47,1025.43 L1721.07,1025.27 L1727.55,1025.21 L1727.57,1030.2 L1728.75,1037.21 L1729.15,1085.86 L1730.06,1078.59 L1730.06,1041.78 L1731.36,1041.78 L1731.36,1031.3 L1732.66,1031.29 L1732.66,1027.73 L1733.96,1027.73 L1733.96,1026.37 L1735.26,1026.37 L1735.26,1025.79 L1736.56,1025.79 L1736.56,1025.51 L1737.86,1025.51 L1737.86,1025.37 L1739.16,1025.29 L1746.51,1025.2 L1746.53,1030.2 L1747.71,1037.2 L1748.11,1084.24 L1748.75,1077.17 L1748.75,1045.29 L1750.05,1045.29 L1750.05,1032.39 L1751.35,1032.39 L1751.35,1028.11 L1752.65,1028.11 L1752.65,1026.52 L1753.95,1026.52 L1753.95,1025.85 L1755.25,1025.85 L1755.25,1025.54 L1756.55,1025.54 L1756.55,1025.38 L1757.85,1025.3 L1765.47,1025.21 L1765.49,1030.19 L1766.67,1037.2 L1767.07,1078.4 L1768.14,1072.03 L1768.14,1037.81 L1769.44,1037.81 L1769.44,1029.86 L1770.74,1029.86 L1770.74,1027.15 L1772.04,1027.15 L1772.04,1026.11 L1773.34,1026.11 L1773.34,1025.66 L1774.64,1025.66 L1774.64,1025.44 L1777.24,1025.27 L1784.42,1025.21 L1784.44,1030.2 L1785.62,1037.2 L1786.02,1074.52 L1786.83,1068.61 L1786.83,1039.69 L1788.13,1039.69 L1788.13,1030.41 L1789.43,1030.4 L1789.43,1027.31 L1790.73,1027.31 L1790.73,1026.16 L1792.03,1026.16 L1792.03,1025.68 L1793.33,1025.68 L1793.33,1025.45 L1795.93,1025.27 L1803.38,1025.2 L1803.4,1030.2 L1804.58,1037.2 L1804.98,1069.65 L1805.52,1064.33 L1805.52,1041.49 L1806.82,1041.49 L1806.82,1030.88 L1808.12,1030.88 L1808.12,1027.43 L1809.42,1027.43 L1809.42,1026.19 L1810.72,1026.19 L1810.72,1025.68 L1812.02,1025.68 L1812.02,1025.45 L1814.62,1025.27 L1822.34,1025.2 L1822.36,1030.19 L1823.54,1037.2 L1823.94,1065.44 L1824.91,1060.61 L1824.91,1035.41 L1826.21,1035.41 L1826.21,1028.88 L1827.51,1028.88 L1827.51,1026.7 L1828.81,1026.7 L1828.81,1025.88 L1830.11,1025.88 L1830.11,1025.54 L1831.41,1025.54 L1831.41,1025.38 L1832.71,1025.29 L1841.3,1025.21 L1841.32,1030.2 L1842.5,1037.2 L1842.9,1061.87 L1843.6,1057.48 L1843.6,1036.8 L1844.9,1036.8 L1844.9,1029.26 L1846.2,1029.26 L1846.2,1026.81 L1847.5,1026.81 L1847.5,1025.91 L1848.8,1025.91 L1848.8,1025.55 L1852.7,1025.25 L1860.26,1025.2 L1860.28,1030.2 L1861.46,1037.2 L1861.86,1062.52 L1862.99,1058.05 L1862.99,1033.43 L1864.29,1033.43 L1864.29,1028.2 L1865.59,1028.2 L1865.59,1026.44 L1866.89,1026.44 L1866.89,1025.77 L1868.19,1025.77 L1868.19,1025.48 L1869.49,1025.48 L1869.49,1025.35 L1879.21,1025.2 L1879.23,1030.19 L1880.41,1037.2 L1880.81,1060.9 L1881.68,1056.62 L1881.68,1035.01 L1882.98,1035.01 L1882.98,1028.68 L1884.28,1028.68 L1884.28,1026.6 L1885.58,1026.6 L1885.58,1025.83 L1886.88,1025.83 L1886.88,1025.51 L1890.78,1025.25 L1898.17,1025.21 L1898.19,1030.2 L1899.37,1037.2 L1899.77,1063.82 L1900.37,1059.19 L1900.37,1038.55 L1901.67,1038.55 L1901.67,1029.85 L1902.97,1029.85 L1902.97,1027.02 L1904.27,1027.02 L1904.27,1026.01 L1905.57,1026.01 L1905.57,1025.59 L1906.87,1025.59 L1906.87,1025.4 L1908.17,1025.31 L1917.13,1025.2 L1917.15,1030.2 L1918.33,1037.2 L1918.73,1060.25 L1919.76,1056.05 L1919.77,1033.59 L1921.06,1033.59 L1921.07,1028.22 L1922.36,1028.22 L1922.37,1026.43 L1923.66,1026.43 L1923.67,1025.76 L1924.96,1025.76 L1924.97,1025.48 L1927.57,1025.28 L1953,1025.2"/>
<rect x="1459.7" y="999.5" width="501.8" height="673.5" class="fr"/>
<line x1="1459.7" y1="1336.2" x2="1961.5" y2="1336.2" class="fr"/>
<line x1="1568.9" y1="988.5" x2="1568.9" y2="1010.5" class="tk"/>
<text class="tl" x="1568.9" y="989.5" text-anchor="middle">2000</text>
<line x1="1695.4" y1="988.5" x2="1695.4" y2="1010.5" class="tk"/>
<text class="tl" x="1695.4" y="989.5" text-anchor="middle">4000</text>
<line x1="1821.8" y1="988.5" x2="1821.8" y2="1010.5" class="tk"/>
<text class="tl" x="1821.8" y="989.5" text-anchor="middle">6000</text>
<line x1="1948.2" y1="988.5" x2="1948.2" y2="1010.5" class="tk"/>
<text class="tl" x="1948.2" y="989.5" text-anchor="middle">8000</text>
<text class="lab" x="1712" y="966.2" text-anchor="middle">Time (s)</text>
<line x1="1447.7" y1="1025.2" x2="1469.7" y2="1025.2" class="tk"/>
<text class="tl" x="1447.4" y="1032.6" text-anchor="end">0</text>
<line x1="1447.7" y1="1095.3" x2="1469.7" y2="1095.3" class="tk"/>
<text class="tl" x="1447.4" y="1102.7" text-anchor="end">-2</text>
<line x1="1447.7" y1="1165" x2="1469.7" y2="1165" class="tk"/>
<text class="tl" x="1447.4" y="1172.4" text-anchor="end">-4</text>
<line x1="1447.7" y1="1235" x2="1469.7" y2="1235" class="tk"/>
<text class="tl" x="1447.4" y="1242.4" text-anchor="end">-6</text>
<line x1="1447.7" y1="1304.7" x2="1469.7" y2="1304.7" class="tk"/>
<text class="tl" x="1447.4" y="1312.1" text-anchor="end">-8</text>
<text class="lab" transform="translate(1409.3,1162.9) rotate(-90)" text-anchor="middle">µJ s<tspan class="sup" dy="-9.4">-1</tspan></text>
<text class="ttl" x="1599.7" y="1323">P<tspan class="subi" dy="4.9">clpV</tspan><tspan dy="-4.9"> : H-NS</tspan><tspan class="sub" dx="0.4" dy="4.9">T115A</tspan></text>
<line x1="1447.7" y1="1397.1" x2="1469.7" y2="1397.1" class="tk"/>
<text class="tl" x="1447.4" y="1404.5" text-anchor="end">0</text>
<line x1="1447.7" y1="1461.5" x2="1469.7" y2="1461.5" class="tk"/>
<text class="tl" x="1447.4" y="1468.9" text-anchor="end">-20</text>
<line x1="1447.7" y1="1527" x2="1469.7" y2="1527" class="tk"/>
<text class="tl" x="1447.4" y="1534.4" text-anchor="end">-40</text>
<line x1="1447.7" y1="1591.3" x2="1469.7" y2="1591.3" class="tk"/>
<text class="tl" x="1447.4" y="1598.7" text-anchor="end">-60</text>
<line x1="1447.7" y1="1656.6" x2="1469.7" y2="1656.6" class="tk"/>
<text class="tl" x="1447.4" y="1664" text-anchor="end">-80</text>
<line x1="1465.6" y1="1662" x2="1465.6" y2="1685" class="tk"/>
<text class="tl" x="1465.6" y="1702.5" text-anchor="middle">0</text>
<line x1="1557.9" y1="1662" x2="1557.9" y2="1685" class="tk"/>
<text class="tl" x="1557.9" y="1702.5" text-anchor="middle">1</text>
<line x1="1651.5" y1="1662" x2="1651.5" y2="1685" class="tk"/>
<text class="tl" x="1651.5" y="1702.5" text-anchor="middle">2</text>
<line x1="1743.9" y1="1662" x2="1743.9" y2="1685" class="tk"/>
<text class="tl" x="1743.9" y="1702.5" text-anchor="middle">3</text>
<line x1="1837.2" y1="1662" x2="1837.2" y2="1685" class="tk"/>
<text class="tl" x="1837.2" y="1702.5" text-anchor="middle">4</text>
<line x1="1929.9" y1="1662" x2="1929.9" y2="1685" class="tk"/>
<text class="tl" x="1929.9" y="1702.5" text-anchor="middle">5</text>
<text class="lab" transform="translate(1405.5,1511.3) rotate(-90)" text-anchor="middle">kJ mol<tspan class="sup" dy="-9.4">-1</tspan><tspan dy="9.4"> of injectant</tspan></text>
<path class="fit" d="M1499.4,1598.49 L1508.55,1586.81 L1517.7,1574.84 L1526.23,1563.54 L1534.77,1552.27 L1543.91,1540.39 L1553.06,1528.87 L1561.6,1518.56 L1570.13,1508.76 L1579.28,1498.9 L1588.43,1489.74 L1597.57,1481.31 L1606.72,1473.58 L1615.87,1466.55 L1625.01,1460.16 L1634.16,1454.37 L1643.3,1449.14 L1652.45,1444.42 L1661.6,1440.15 L1670.44,1436.41 L1679.28,1433.02 L1689.04,1429.63 L1698.79,1426.58 L1707.94,1423.98 L1717.09,1421.62 L1726.23,1419.45 L1735.38,1417.47 L1745.13,1415.54 L1754.89,1413.77 L1764.65,1412.15 L1774.4,1410.65 L1783.55,1409.36 L1792.7,1408.15 L1802.45,1406.96 L1812.21,1405.85 L1821.96,1404.81 L1831.72,1403.84 L1841.48,1402.94 L1851.23,1402.08 L1861.6,1401.23 L1871.96,1400.43 L1881.72,1399.72 L1891.48,1399.04 L1901.23,1398.4 L1910.99,1397.79 L1921.05,1397.19 L1931.11,1396.62"/>
<circle cx="1499.4" cy="1597.74" r="2.6" fill="#0000ff"/>
<circle cx="1517.7" cy="1575.79" r="2.6" fill="#0000ff"/>
<circle cx="1534.77" cy="1552.62" r="2.6" fill="#0000ff"/>
<circle cx="1553.06" cy="1529.45" r="2.6" fill="#0000ff"/>
<circle cx="1570.13" cy="1507.8" r="2.6" fill="#0000ff"/>
<circle cx="1588.43" cy="1488.29" r="2.6" fill="#0000ff"/>
<circle cx="1606.72" cy="1473.66" r="2.6" fill="#0000ff"/>
<circle cx="1625.01" cy="1460.24" r="2.6" fill="#0000ff"/>
<circle cx="1643.3" cy="1450.49" r="2.6" fill="#0000ff"/>
<circle cx="1661.6" cy="1440.73" r="2.6" fill="#0000ff"/>
<circle cx="1679.28" cy="1433.41" r="2.6" fill="#0000ff"/>
<circle cx="1698.79" cy="1426.1" r="2.6" fill="#0000ff"/>
<circle cx="1717.09" cy="1421.22" r="2.6" fill="#0000ff"/>
<circle cx="1735.38" cy="1417.56" r="2.6" fill="#0000ff"/>
<circle cx="1754.89" cy="1413.9" r="2.6" fill="#0000ff"/>
<circle cx="1774.4" cy="1410.24" r="2.6" fill="#0000ff"/>
<circle cx="1792.7" cy="1407.8" r="2.6" fill="#0000ff"/>
<circle cx="1812.21" cy="1406.59" r="2.6" fill="#0000ff"/>
<circle cx="1831.72" cy="1402.93" r="2.6" fill="#0000ff"/>
<circle cx="1851.23" cy="1401.71" r="2.6" fill="#0000ff"/>
<circle cx="1871.96" cy="1400.49" r="2.6" fill="#0000ff"/>
<circle cx="1891.48" cy="1399.27" r="2.6" fill="#0000ff"/>
<circle cx="1910.99" cy="1398.05" r="2.6" fill="#0000ff"/>
<circle cx="1931.11" cy="1396.83" r="2.6" fill="#0000ff"/>
<text class="kd" x="1694.4" y="1546.8"><tspan font-style="italic">K</tspan><tspan class="kds" dy="1.8">d</tspan><tspan dx="1" dy="-1.8"> = 27 ± 8 µM</tspan></text>
<text class="kd" x="1694.4" y="1578.8"><tspan font-style="italic">n</tspan> = 1.23 ± 0.05</text>
<text class="lab" x="1712" y="1732" text-anchor="middle">Molar ratio</text>
</svg></body></html>
